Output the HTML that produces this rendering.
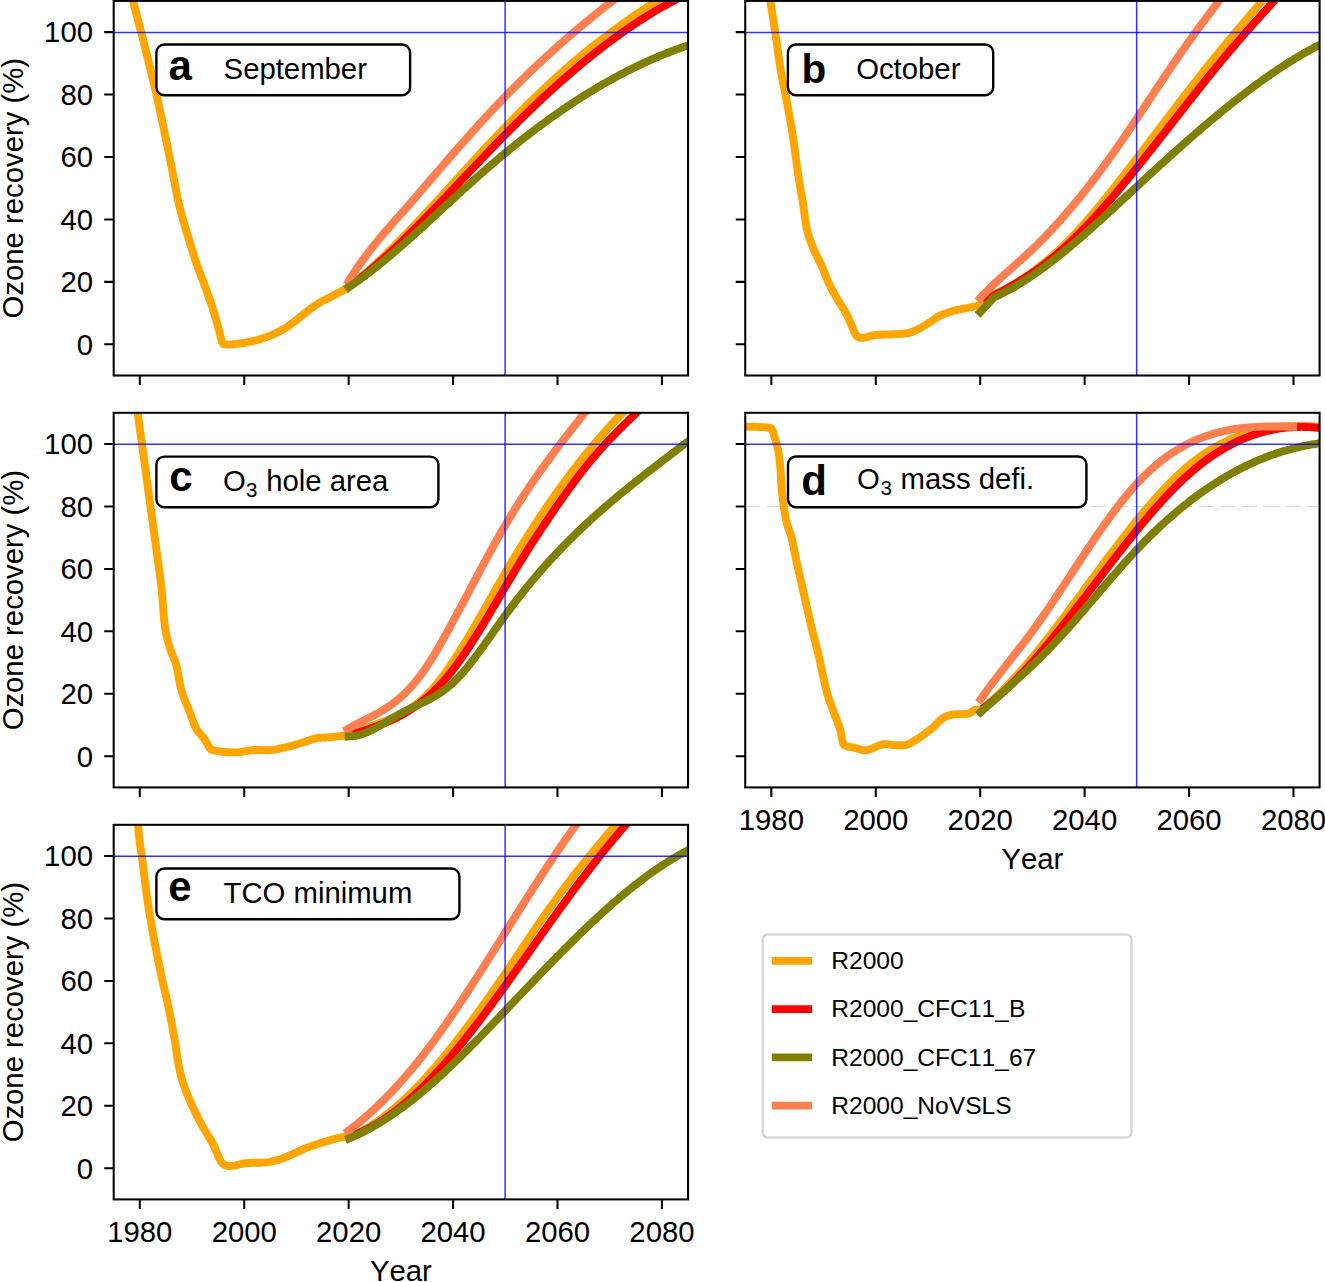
<!DOCTYPE html><html><head><meta charset="utf-8"><style>html,body{margin:0;padding:0;background:#fff;}svg{display:block;}text{font-family:"Liberation Sans",sans-serif;font-kerning:none;}</style></head><body>
<svg width="1325" height="1282" viewBox="0 0 1325 1282">
<rect width="1325" height="1282" fill="#fff"/>
<defs><clipPath id="clipa"><rect x="113.69" y="0.91" width="574.35" height="374.6"/></clipPath><clipPath id="clipb"><rect x="745.24" y="0.91" width="574.35" height="374.6"/></clipPath><clipPath id="clipc"><rect x="113.69" y="412.81" width="574.35" height="374.6"/></clipPath><clipPath id="clipd"><rect x="745.24" y="412.81" width="574.35" height="374.6"/></clipPath><clipPath id="clipe"><rect x="113.69" y="824.81" width="574.35" height="374.6"/></clipPath></defs>
<g clip-path="url(#clipa)"><path d="M348.66 287.2 L349.96 286.17 L351.27 285.14 L352.57 284.09 L353.88 283.03 L355.18 281.96 L356.49 280.89 L357.79 279.8 L359.1 278.7 L360.4 277.6 L361.71 276.48 L363.01 275.36 L364.32 274.22 L365.63 273.08 L366.93 271.93 L368.24 270.77 L369.54 269.61 L370.85 268.43 L372.15 267.25 L373.46 266.05 L374.76 264.85 L376.07 263.64 L377.37 262.43 L378.68 261.21 L379.98 259.98 L381.29 258.74 L382.6 257.49 L383.9 256.24 L385.21 254.98 L386.51 253.72 L387.82 252.44 L389.12 251.17 L390.43 249.88 L391.73 248.59 L393.04 247.29 L394.34 245.99 L395.65 244.68 L396.95 243.36 L398.26 242.04 L399.56 240.72 L400.87 239.39 L402.18 238.05 L403.48 236.71 L404.79 235.36 L406.09 234.01 L407.4 232.65 L408.7 231.29 L410.01 229.93 L411.31 228.56 L412.62 227.19 L413.92 225.81 L415.23 224.43 L416.53 223.04 L417.84 221.65 L419.14 220.26 L420.45 218.87 L421.76 217.47 L423.06 216.06 L424.37 214.66 L425.67 213.25 L426.98 211.84 L428.28 210.43 L429.59 209.01 L430.89 207.59 L432.2 206.17 L433.5 204.75 L434.81 203.33 L436.11 201.9 L437.42 200.47 L438.73 199.05 L440.03 197.62 L441.34 196.18 L442.64 194.75 L443.95 193.32 L445.25 191.88 L446.56 190.45 L447.86 189.01 L449.17 187.57 L450.47 186.13 L451.78 184.7 L453.08 183.26 L454.39 181.82 L455.69 180.38 L457 178.95 L458.31 177.51 L459.61 176.07 L460.92 174.64 L462.22 173.2 L463.53 171.77 L464.83 170.34 L466.14 168.9 L467.44 167.47 L468.75 166.05 L470.05 164.62 L471.36 163.19 L472.66 161.77 L473.97 160.35 L475.27 158.93 L476.58 157.51 L477.89 156.09 L479.19 154.68 L480.5 153.27 L481.8 151.86 L483.11 150.46 L484.41 149.06 L485.72 147.66 L487.02 146.26 L488.33 144.87 L489.63 143.48 L490.94 142.09 L492.24 140.71 L493.55 139.33 L494.86 137.95 L496.16 136.57 L497.47 135.2 L498.77 133.83 L500.08 132.47 L501.38 131.11 L502.69 129.75 L503.99 128.39 L505.3 127.04 L506.6 125.69 L507.91 124.35 L509.21 123.01 L510.52 121.67 L511.82 120.34 L513.13 119.01 L514.44 117.68 L515.74 116.36 L517.05 115.04 L518.35 113.72 L519.66 112.41 L520.96 111.11 L522.27 109.8 L523.57 108.5 L524.88 107.21 L526.18 105.92 L527.49 104.63 L528.79 103.35 L530.1 102.07 L531.4 100.79 L532.71 99.52 L534.02 98.26 L535.32 97 L536.63 95.74 L537.93 94.49 L539.24 93.24 L540.54 92 L541.85 90.76 L543.15 89.52 L544.46 88.29 L545.76 87.07 L547.07 85.85 L548.37 84.63 L549.68 83.42 L550.99 82.21 L552.29 81.01 L553.6 79.82 L554.9 78.63 L556.21 77.44 L557.51 76.26 L558.82 75.08 L560.12 73.91 L561.43 72.75 L562.73 71.58 L564.04 70.43 L565.34 69.28 L566.65 68.13 L567.95 66.99 L569.26 65.86 L570.57 64.73 L571.87 63.61 L573.18 62.49 L574.48 61.38 L575.79 60.27 L577.09 59.17 L578.4 58.08 L579.7 56.99 L581.01 55.9 L582.31 54.82 L583.62 53.75 L584.92 52.68 L586.23 51.62 L587.54 50.56 L588.84 49.51 L590.15 48.46 L591.45 47.42 L592.76 46.38 L594.06 45.35 L595.37 44.33 L596.67 43.3 L597.98 42.29 L599.28 41.27 L600.59 40.27 L601.89 39.27 L603.2 38.27 L604.5 37.27 L605.81 36.29 L607.12 35.3 L608.42 34.32 L609.73 33.35 L611.03 32.38 L612.34 31.41 L613.64 30.45 L614.95 29.5 L616.25 28.54 L617.56 27.59 L618.86 26.65 L620.17 25.71 L621.47 24.77 L622.78 23.84 L624.08 22.91 L625.39 21.99 L626.7 21.07 L628 20.16 L629.31 19.24 L630.61 18.33 L631.92 17.43 L633.22 16.53 L634.53 15.63 L635.83 14.74 L637.14 13.85 L638.44 12.96 L639.75 12.08 L641.05 11.2 L642.36 10.32 L643.67 9.45 L644.97 8.58 L646.28 7.72 L647.58 6.85 L648.89 5.99 L650.19 5.14 L651.5 4.28 L652.8 3.43 L654.11 2.59 L655.41 1.74 L656.72 0.9 L658.02 0.06 L659.33 -0.77 L660.63 -1.61 L661.94 -2.44 L663.25 -3.27 L664.55 -4.09 L665.86 -4.91 L667.16 -5.73 L668.47 -6.55 L669.77 -7.36 L671.08 -8.18 L672.38 -8.99 L673.69 -9.79 L674.99 -10.6 L676.3 -11.4 L677.6 -12.2 L678.91 -13 L680.21 -13.8 L681.52 -14.59 L682.83 -15.39 L684.13 -16.18 L685.44 -16.97 L686.74 -17.75 L688.05 -18.54" fill="none" stroke="#ffa500" stroke-width="7.9" stroke-linecap="square" stroke-linejoin="round"/><path d="M348.66 287.24 L349.96 286.27 L351.27 285.29 L352.57 284.31 L353.88 283.31 L355.18 282.31 L356.49 281.3 L357.79 280.28 L359.1 279.25 L360.4 278.21 L361.71 277.16 L363.01 276.11 L364.32 275.04 L365.63 273.97 L366.93 272.89 L368.24 271.8 L369.54 270.71 L370.85 269.6 L372.15 268.49 L373.46 267.37 L374.76 266.25 L376.07 265.12 L377.37 263.97 L378.68 262.83 L379.98 261.67 L381.29 260.51 L382.6 259.34 L383.9 258.17 L385.21 256.99 L386.51 255.8 L387.82 254.6 L389.12 253.4 L390.43 252.2 L391.73 250.98 L393.04 249.77 L394.34 248.54 L395.65 247.31 L396.95 246.07 L398.26 244.83 L399.56 243.59 L400.87 242.33 L402.18 241.08 L403.48 239.82 L404.79 238.55 L406.09 237.28 L407.4 236 L408.7 234.72 L410.01 233.43 L411.31 232.14 L412.62 230.85 L413.92 229.55 L415.23 228.25 L416.53 226.94 L417.84 225.63 L419.14 224.31 L420.45 223 L421.76 221.67 L423.06 220.35 L424.37 219.02 L425.67 217.69 L426.98 216.35 L428.28 215.02 L429.59 213.67 L430.89 212.33 L432.2 210.98 L433.5 209.64 L434.81 208.28 L436.11 206.93 L437.42 205.57 L438.73 204.22 L440.03 202.86 L441.34 201.49 L442.64 200.13 L443.95 198.76 L445.25 197.4 L446.56 196.03 L447.86 194.66 L449.17 193.28 L450.47 191.91 L451.78 190.54 L453.08 189.16 L454.39 187.79 L455.69 186.41 L457 185.03 L458.31 183.66 L459.61 182.28 L460.92 180.9 L462.22 179.52 L463.53 178.14 L464.83 176.76 L466.14 175.38 L467.44 174 L468.75 172.63 L470.05 171.25 L471.36 169.87 L472.66 168.49 L473.97 167.12 L475.27 165.74 L476.58 164.37 L477.89 163 L479.19 161.62 L480.5 160.25 L481.8 158.88 L483.11 157.52 L484.41 156.15 L485.72 154.79 L487.02 153.42 L488.33 152.06 L489.63 150.7 L490.94 149.35 L492.24 147.99 L493.55 146.64 L494.86 145.29 L496.16 143.94 L497.47 142.6 L498.77 141.26 L500.08 139.92 L501.38 138.58 L502.69 137.25 L503.99 135.92 L505.3 134.59 L506.6 133.27 L507.91 131.95 L509.21 130.64 L510.52 129.32 L511.82 128.02 L513.13 126.71 L514.44 125.41 L515.74 124.11 L517.05 122.82 L518.35 121.53 L519.66 120.24 L520.96 118.96 L522.27 117.68 L523.57 116.4 L524.88 115.13 L526.18 113.86 L527.49 112.59 L528.79 111.33 L530.1 110.08 L531.4 108.82 L532.71 107.57 L534.02 106.33 L535.32 105.09 L536.63 103.85 L537.93 102.62 L539.24 101.39 L540.54 100.16 L541.85 98.94 L543.15 97.72 L544.46 96.51 L545.76 95.3 L547.07 94.1 L548.37 92.9 L549.68 91.7 L550.99 90.51 L552.29 89.32 L553.6 88.14 L554.9 86.96 L556.21 85.78 L557.51 84.61 L558.82 83.44 L560.12 82.28 L561.43 81.13 L562.73 79.97 L564.04 78.82 L565.34 77.68 L566.65 76.54 L567.95 75.41 L569.26 74.27 L570.57 73.15 L571.87 72.03 L573.18 70.91 L574.48 69.8 L575.79 68.69 L577.09 67.59 L578.4 66.49 L579.7 65.4 L581.01 64.31 L582.31 63.23 L583.62 62.15 L584.92 61.07 L586.23 60.01 L587.54 58.94 L588.84 57.88 L590.15 56.83 L591.45 55.78 L592.76 54.73 L594.06 53.7 L595.37 52.66 L596.67 51.63 L597.98 50.61 L599.28 49.59 L600.59 48.58 L601.89 47.57 L603.2 46.56 L604.5 45.57 L605.81 44.57 L607.12 43.58 L608.42 42.6 L609.73 41.63 L611.03 40.65 L612.34 39.69 L613.64 38.73 L614.95 37.77 L616.25 36.82 L617.56 35.87 L618.86 34.94 L620.17 34 L621.47 33.07 L622.78 32.15 L624.08 31.23 L625.39 30.32 L626.7 29.42 L628 28.52 L629.31 27.62 L630.61 26.73 L631.92 25.85 L633.22 24.97 L634.53 24.1 L635.83 23.23 L637.14 22.37 L638.44 21.52 L639.75 20.67 L641.05 19.83 L642.36 18.99 L643.67 18.16 L644.97 17.33 L646.28 16.51 L647.58 15.7 L648.89 14.89 L650.19 14.09 L651.5 13.3 L652.8 12.51 L654.11 11.73 L655.41 10.95 L656.72 10.18 L658.02 9.41 L659.33 8.66 L660.63 7.9 L661.94 7.16 L663.25 6.42 L664.55 5.69 L665.86 4.96 L667.16 4.24 L668.47 3.53 L669.77 2.82 L671.08 2.12 L672.38 1.42 L673.69 0.73 L674.99 0.05 L676.3 -0.62 L677.6 -1.29 L678.91 -1.95 L680.21 -2.61 L681.52 -3.26 L682.83 -3.9 L684.13 -4.54 L685.44 -5.17 L686.74 -5.79 L688.05 -6.4" fill="none" stroke="#ff0000" stroke-width="7.9" stroke-linecap="square" stroke-linejoin="round"/><path d="M130.4 -8.45 L131.71 -3.66 L133.01 1.17 L134.32 6.04 L135.62 10.95 L136.93 15.89 L138.23 20.89 L139.54 25.92 L140.84 31 L142.15 36.11 L143.45 41.23 L144.76 46.36 L146.07 51.52 L147.37 56.72 L148.68 61.96 L149.98 67.26 L151.29 72.61 L152.59 78.05 L153.9 83.56 L155.2 89.17 L156.51 94.88 L157.81 100.7 L159.12 106.63 L160.42 112.67 L161.73 118.8 L163.04 125.02 L164.34 131.32 L165.65 137.67 L166.95 144.09 L168.26 150.55 L169.56 157.05 L170.87 163.58 L172.17 170.13 L173.48 176.69 L174.78 183.33 L176.09 190.3 L177.39 197.05 L178.7 203.01 L180 208.47 L181.31 213.58 L182.62 218.44 L183.92 223.07 L185.23 227.48 L186.53 231.74 L187.84 235.94 L189.14 240.15 L190.45 244.41 L191.75 248.7 L193.06 252.94 L194.36 257.11 L195.67 261.14 L196.97 265 L198.28 268.62 L199.59 272.06 L200.89 275.41 L202.2 278.77 L203.5 282.23 L204.81 285.8 L206.11 289.38 L207.42 292.98 L208.72 296.64 L210.03 300.39 L211.33 304.24 L212.64 308.24 L213.94 312.47 L215.25 316.94 L216.55 321.49 L217.86 325.98 L219.17 330.94 L220.47 336.54 L221.78 341.33 L223.08 343.88 L224.39 344.24 L225.69 344.47 L227 344.59 L228.3 344.61 L229.61 344.57 L230.91 344.5 L232.22 344.39 L233.52 344.26 L234.83 344.11 L236.13 343.94 L237.44 343.76 L238.75 343.58 L240.05 343.39 L241.36 343.21 L242.66 343.03 L243.97 342.83 L245.27 342.62 L246.58 342.39 L247.88 342.15 L249.19 341.9 L250.49 341.63 L251.8 341.35 L253.1 341.06 L254.41 340.75 L255.72 340.44 L257.02 340.11 L258.33 339.75 L259.63 339.37 L260.94 338.96 L262.24 338.53 L263.55 338.08 L264.85 337.6 L266.16 337.12 L267.46 336.61 L268.77 336.1 L270.07 335.57 L271.38 335.04 L272.68 334.5 L273.99 333.94 L275.3 333.35 L276.6 332.75 L277.91 332.12 L279.21 331.47 L280.52 330.79 L281.82 330.09 L283.13 329.36 L284.43 328.6 L285.74 327.8 L287.04 326.94 L288.35 326.05 L289.65 325.12 L290.96 324.17 L292.26 323.2 L293.57 322.22 L294.88 321.24 L296.18 320.26 L297.49 319.25 L298.79 318.2 L300.1 317.14 L301.4 316.06 L302.71 314.97 L304.01 313.9 L305.32 312.84 L306.62 311.81 L307.93 310.82 L309.23 309.85 L310.54 308.88 L311.85 307.92 L313.15 306.97 L314.46 306.05 L315.76 305.14 L317.07 304.27 L318.37 303.43 L319.68 302.62 L320.98 301.87 L322.29 301.15 L323.59 300.46 L324.9 299.8 L326.2 299.15 L327.51 298.51 L328.81 297.87 L330.12 297.22 L331.43 296.55 L332.73 295.87 L334.04 295.17 L335.34 294.48 L336.65 293.78 L337.95 293.07 L339.26 292.36 L340.56 291.65 L341.87 290.94 L343.17 290.22 L344.48 289.5 L345.78 288.78 L347.09 288.05 L348.39 287.32 L348.66 287.17" fill="none" stroke="#ffa500" stroke-width="7.9" stroke-linecap="square" stroke-linejoin="round"/><path d="M348.66 281.19 L349.96 279.06 L351.27 276.96 L352.57 274.91 L353.88 272.88 L355.18 270.89 L356.49 268.93 L357.79 267.01 L359.1 265.11 L360.4 263.25 L361.71 261.41 L363.01 259.6 L364.32 257.82 L365.63 256.06 L366.93 254.32 L368.24 252.61 L369.54 250.91 L370.85 249.24 L372.15 247.59 L373.46 245.96 L374.76 244.34 L376.07 242.74 L377.37 241.15 L378.68 239.57 L379.98 238.01 L381.29 236.47 L382.6 234.93 L383.9 233.4 L385.21 231.88 L386.51 230.37 L387.82 228.87 L389.12 227.37 L390.43 225.88 L391.73 224.39 L393.04 222.91 L394.34 221.43 L395.65 219.95 L396.95 218.47 L398.26 216.99 L399.56 215.51 L400.87 214.03 L402.18 212.55 L403.48 211.06 L404.79 209.57 L406.09 208.08 L407.4 206.58 L408.7 205.09 L410.01 203.59 L411.31 202.08 L412.62 200.58 L413.92 199.08 L415.23 197.57 L416.53 196.06 L417.84 194.55 L419.14 193.04 L420.45 191.52 L421.76 190.01 L423.06 188.5 L424.37 186.98 L425.67 185.46 L426.98 183.95 L428.28 182.43 L429.59 180.91 L430.89 179.39 L432.2 177.88 L433.5 176.36 L434.81 174.84 L436.11 173.32 L437.42 171.81 L438.73 170.29 L440.03 168.77 L441.34 167.26 L442.64 165.74 L443.95 164.23 L445.25 162.72 L446.56 161.21 L447.86 159.7 L449.17 158.19 L450.47 156.69 L451.78 155.19 L453.08 153.68 L454.39 152.19 L455.69 150.69 L457 149.19 L458.31 147.7 L459.61 146.21 L460.92 144.72 L462.22 143.24 L463.53 141.76 L464.83 140.28 L466.14 138.81 L467.44 137.34 L468.75 135.87 L470.05 134.4 L471.36 132.94 L472.66 131.49 L473.97 130.04 L475.27 128.59 L476.58 127.14 L477.89 125.71 L479.19 124.27 L480.5 122.84 L481.8 121.41 L483.11 119.99 L484.41 118.58 L485.72 117.17 L487.02 115.76 L488.33 114.36 L489.63 112.96 L490.94 111.57 L492.24 110.18 L493.55 108.8 L494.86 107.42 L496.16 106.05 L497.47 104.68 L498.77 103.31 L500.08 101.96 L501.38 100.6 L502.69 99.25 L503.99 97.9 L505.3 96.56 L506.6 95.23 L507.91 93.89 L509.21 92.57 L510.52 91.24 L511.82 89.92 L513.13 88.61 L514.44 87.3 L515.74 86 L517.05 84.7 L518.35 83.4 L519.66 82.11 L520.96 80.82 L522.27 79.54 L523.57 78.26 L524.88 76.99 L526.18 75.72 L527.49 74.45 L528.79 73.19 L530.1 71.93 L531.4 70.68 L532.71 69.43 L534.02 68.19 L535.32 66.95 L536.63 65.72 L537.93 64.49 L539.24 63.26 L540.54 62.04 L541.85 60.82 L543.15 59.61 L544.46 58.4 L545.76 57.19 L547.07 55.99 L548.37 54.8 L549.68 53.61 L550.99 52.42 L552.29 51.23 L553.6 50.05 L554.9 48.88 L556.21 47.71 L557.51 46.54 L558.82 45.38 L560.12 44.22 L561.43 43.06 L562.73 41.91 L564.04 40.77 L565.34 39.63 L566.65 38.49 L567.95 37.35 L569.26 36.22 L570.57 35.1 L571.87 33.97 L573.18 32.86 L574.48 31.74 L575.79 30.63 L577.09 29.53 L578.4 28.42 L579.7 27.32 L581.01 26.23 L582.31 25.14 L583.62 24.05 L584.92 22.97 L586.23 21.89 L587.54 20.82 L588.84 19.75 L590.15 18.68 L591.45 17.62 L592.76 16.56 L594.06 15.5 L595.37 14.45 L596.67 13.4 L597.98 12.36 L599.28 11.32 L600.59 10.28 L601.89 9.25 L603.2 8.22 L604.5 7.19 L605.81 6.17 L607.12 5.16 L608.42 4.14 L609.73 3.13 L611.03 2.12 L612.34 1.12 L613.64 0.12 L614.95 -0.87 L616.25 -1.87 L617.56 -2.85 L618.86 -3.84 L620.17 -4.82 L621.47 -5.8 L622.78 -6.77 L624.08 -7.74 L625.39 -8.71 L626.7 -9.67 L628 -10.63 L629.31 -11.59 L630.61 -12.54 L631.92 -13.49 L633.22 -14.43 L634.53 -15.37 L635.83 -16.31" fill="none" stroke="#ff7f50" stroke-width="7.9" stroke-linecap="square" stroke-linejoin="round"/><path d="M348.66 287.21 L349.96 286.34 L351.27 285.46 L352.57 284.58 L353.88 283.68 L355.18 282.77 L356.49 281.86 L357.79 280.93 L359.1 280 L360.4 279.06 L361.71 278.11 L363.01 277.15 L364.32 276.19 L365.63 275.22 L366.93 274.23 L368.24 273.25 L369.54 272.25 L370.85 271.25 L372.15 270.24 L373.46 269.22 L374.76 268.2 L376.07 267.16 L377.37 266.13 L378.68 265.08 L379.98 264.03 L381.29 262.98 L382.6 261.91 L383.9 260.84 L385.21 259.77 L386.51 258.69 L387.82 257.6 L389.12 256.51 L390.43 255.41 L391.73 254.31 L393.04 253.2 L394.34 252.09 L395.65 250.97 L396.95 249.85 L398.26 248.72 L399.56 247.59 L400.87 246.46 L402.18 245.32 L403.48 244.17 L404.79 243.03 L406.09 241.87 L407.4 240.72 L408.7 239.56 L410.01 238.4 L411.31 237.23 L412.62 236.06 L413.92 234.89 L415.23 233.72 L416.53 232.54 L417.84 231.36 L419.14 230.18 L420.45 229 L421.76 227.81 L423.06 226.62 L424.37 225.43 L425.67 224.24 L426.98 223.04 L428.28 221.85 L429.59 220.65 L430.89 219.45 L432.2 218.25 L433.5 217.05 L434.81 215.85 L436.11 214.65 L437.42 213.44 L438.73 212.24 L440.03 211.03 L441.34 209.83 L442.64 208.63 L443.95 207.42 L445.25 206.22 L446.56 205.01 L447.86 203.81 L449.17 202.61 L450.47 201.4 L451.78 200.2 L453.08 199 L454.39 197.8 L455.69 196.6 L457 195.41 L458.31 194.21 L459.61 193.01 L460.92 191.82 L462.22 190.63 L463.53 189.44 L464.83 188.26 L466.14 187.07 L467.44 185.89 L468.75 184.71 L470.05 183.53 L471.36 182.36 L472.66 181.19 L473.97 180.02 L475.27 178.85 L476.58 177.69 L477.89 176.53 L479.19 175.38 L480.5 174.23 L481.8 173.08 L483.11 171.93 L484.41 170.79 L485.72 169.66 L487.02 168.53 L488.33 167.4 L489.63 166.27 L490.94 165.15 L492.24 164.03 L493.55 162.92 L494.86 161.81 L496.16 160.71 L497.47 159.6 L498.77 158.51 L500.08 157.41 L501.38 156.32 L502.69 155.24 L503.99 154.15 L505.3 153.08 L506.6 152 L507.91 150.93 L509.21 149.87 L510.52 148.8 L511.82 147.75 L513.13 146.69 L514.44 145.64 L515.74 144.59 L517.05 143.55 L518.35 142.51 L519.66 141.48 L520.96 140.45 L522.27 139.42 L523.57 138.4 L524.88 137.38 L526.18 136.37 L527.49 135.36 L528.79 134.35 L530.1 133.35 L531.4 132.36 L532.71 131.36 L534.02 130.37 L535.32 129.39 L536.63 128.41 L537.93 127.43 L539.24 126.46 L540.54 125.49 L541.85 124.53 L543.15 123.57 L544.46 122.61 L545.76 121.66 L547.07 120.71 L548.37 119.77 L549.68 118.83 L550.99 117.9 L552.29 116.97 L553.6 116.04 L554.9 115.12 L556.21 114.2 L557.51 113.29 L558.82 112.38 L560.12 111.48 L561.43 110.58 L562.73 109.68 L564.04 108.79 L565.34 107.91 L566.65 107.02 L567.95 106.15 L569.26 105.27 L570.57 104.4 L571.87 103.54 L573.18 102.68 L574.48 101.82 L575.79 100.97 L577.09 100.13 L578.4 99.28 L579.7 98.45 L581.01 97.61 L582.31 96.78 L583.62 95.96 L584.92 95.14 L586.23 94.33 L587.54 93.51 L588.84 92.71 L590.15 91.91 L591.45 91.11 L592.76 90.32 L594.06 89.53 L595.37 88.75 L596.67 87.97 L597.98 87.19 L599.28 86.42 L600.59 85.66 L601.89 84.9 L603.2 84.14 L604.5 83.39 L605.81 82.65 L607.12 81.91 L608.42 81.17 L609.73 80.44 L611.03 79.71 L612.34 78.99 L613.64 78.27 L614.95 77.56 L616.25 76.85 L617.56 76.14 L618.86 75.45 L620.17 74.75 L621.47 74.06 L622.78 73.38 L624.08 72.7 L625.39 72.02 L626.7 71.35 L628 70.69 L629.31 70.03 L630.61 69.37 L631.92 68.72 L633.22 68.08 L634.53 67.44 L635.83 66.8 L637.14 66.17 L638.44 65.54 L639.75 64.92 L641.05 64.31 L642.36 63.69 L643.67 63.09 L644.97 62.49 L646.28 61.89 L647.58 61.3 L648.89 60.71 L650.19 60.13 L651.5 59.55 L652.8 58.98 L654.11 58.42 L655.41 57.85 L656.72 57.3 L658.02 56.75 L659.33 56.2 L660.63 55.66 L661.94 55.12 L663.25 54.59 L664.55 54.07 L665.86 53.55 L667.16 53.03 L668.47 52.52 L669.77 52.01 L671.08 51.51 L672.38 51.02 L673.69 50.53 L674.99 50.05 L676.3 49.57 L677.6 49.09 L678.91 48.62 L680.21 48.16 L681.52 47.7 L682.83 47.25 L684.13 46.8 L685.44 46.36 L686.74 45.92 L688.05 45.49" fill="none" stroke="#808000" stroke-width="7.9" stroke-linecap="square" stroke-linejoin="round"/><line x1="113.69" y1="32.43" x2="688.05" y2="32.43" stroke="#0000ff" stroke-opacity="0.8" stroke-width="1.5"/><line x1="505.1" y1="0.91" x2="505.1" y2="375.52" stroke="#0000ff" stroke-opacity="0.8" stroke-width="1.5"/></g>
<rect x="113.69" y="0.91" width="574.35" height="374.6" fill="none" stroke="#000" stroke-width="2.05"/>
<path d="M139.8 375.52V385.02M244.23 375.52V385.02M348.66 375.52V385.02M453.08 375.52V385.02M557.51 375.52V385.02M661.94 375.52V385.02M113.69 344.3H104.19M113.69 281.87H104.19M113.69 219.43H104.19M113.69 157H104.19M113.69 94.56H104.19M113.69 32.13H104.19" stroke="#000" stroke-width="2.05" fill="none"/>
<text x="92.99" y="354.6" text-anchor="end" font-size="29.3">0</text><text x="92.99" y="292.17" text-anchor="end" font-size="29.3">20</text><text x="92.99" y="229.73" text-anchor="end" font-size="29.3">40</text><text x="92.99" y="167.3" text-anchor="end" font-size="29.3">60</text><text x="92.99" y="104.86" text-anchor="end" font-size="29.3">80</text><text x="92.99" y="42.43" text-anchor="end" font-size="29.3">100</text>
<text transform="translate(23.4 188.22) rotate(-90)" text-anchor="middle" font-size="29.3">Ozone recovery (%)</text>
<g clip-path="url(#clipb)"><path d="M980.21 305.28 L993.78 294.65 L995.09 294.04 L996.39 293.42 L997.7 292.8 L999 292.16 L1000.31 291.51 L1001.61 290.85 L1002.92 290.18 L1004.22 289.51 L1005.53 288.81 L1006.84 288.11 L1008.14 287.4 L1009.45 286.68 L1010.75 285.94 L1012.06 285.19 L1013.36 284.44 L1014.67 283.67 L1015.97 282.88 L1017.28 282.09 L1018.58 281.29 L1019.89 280.47 L1021.19 279.64 L1022.5 278.8 L1023.8 277.94 L1025.11 277.08 L1026.42 276.2 L1027.72 275.31 L1029.03 274.4 L1030.33 273.49 L1031.64 272.56 L1032.94 271.62 L1034.25 270.66 L1035.55 269.69 L1036.86 268.71 L1038.16 267.71 L1039.47 266.71 L1040.77 265.68 L1042.08 264.65 L1043.38 263.6 L1044.69 262.53 L1046 261.46 L1047.3 260.36 L1048.61 259.26 L1049.91 258.14 L1051.22 257 L1052.52 255.86 L1053.83 254.69 L1055.13 253.51 L1056.44 252.32 L1057.74 251.11 L1059.05 249.89 L1060.35 248.65 L1061.66 247.4 L1062.97 246.14 L1064.27 244.86 L1065.58 243.56 L1066.88 242.25 L1068.19 240.93 L1069.49 239.6 L1070.8 238.25 L1072.1 236.89 L1073.41 235.51 L1074.71 234.13 L1076.02 232.73 L1077.32 231.32 L1078.63 229.9 L1079.93 228.47 L1081.24 227.02 L1082.55 225.57 L1083.85 224.1 L1085.16 222.63 L1086.46 221.14 L1087.77 219.64 L1089.07 218.14 L1090.38 216.62 L1091.68 215.1 L1092.99 213.56 L1094.29 212.02 L1095.6 210.47 L1096.9 208.91 L1098.21 207.34 L1099.51 205.76 L1100.82 204.18 L1102.13 202.58 L1103.43 200.99 L1104.74 199.38 L1106.04 197.77 L1107.35 196.15 L1108.65 194.52 L1109.96 192.89 L1111.26 191.25 L1112.57 189.6 L1113.87 187.95 L1115.18 186.3 L1116.48 184.64 L1117.79 182.97 L1119.1 181.3 L1120.4 179.63 L1121.71 177.95 L1123.01 176.27 L1124.32 174.58 L1125.62 172.89 L1126.93 171.2 L1128.23 169.51 L1129.54 167.81 L1130.84 166.11 L1132.15 164.41 L1133.45 162.7 L1134.76 160.99 L1136.06 159.28 L1137.37 157.58 L1138.68 155.86 L1139.98 154.15 L1141.29 152.44 L1142.59 150.72 L1143.9 149.01 L1145.2 147.29 L1146.51 145.58 L1147.81 143.86 L1149.12 142.14 L1150.42 140.42 L1151.73 138.71 L1153.03 136.99 L1154.34 135.27 L1155.65 133.55 L1156.95 131.84 L1158.26 130.12 L1159.56 128.4 L1160.87 126.68 L1162.17 124.97 L1163.48 123.25 L1164.78 121.54 L1166.09 119.82 L1167.39 118.11 L1168.7 116.4 L1170 114.69 L1171.31 112.98 L1172.61 111.27 L1173.92 109.57 L1175.23 107.86 L1176.53 106.16 L1177.84 104.46 L1179.14 102.76 L1180.45 101.06 L1181.75 99.37 L1183.06 97.67 L1184.36 95.98 L1185.67 94.29 L1186.97 92.61 L1188.28 90.92 L1189.58 89.24 L1190.89 87.57 L1192.19 85.89 L1193.5 84.22 L1194.81 82.55 L1196.11 80.88 L1197.42 79.22 L1198.72 77.56 L1200.03 75.91 L1201.33 74.25 L1202.64 72.61 L1203.94 70.96 L1205.25 69.32 L1206.55 67.68 L1207.86 66.05 L1209.16 64.42 L1210.47 62.8 L1211.78 61.18 L1213.08 59.56 L1214.39 57.95 L1215.69 56.35 L1217 54.75 L1218.3 53.15 L1219.61 51.56 L1220.91 49.97 L1222.22 48.38 L1223.52 46.8 L1224.83 45.22 L1226.13 43.64 L1227.44 42.07 L1228.74 40.5 L1230.05 38.94 L1231.36 37.37 L1232.66 35.81 L1233.97 34.25 L1235.27 32.7 L1236.58 31.14 L1237.88 29.59 L1239.19 28.04 L1240.49 26.5 L1241.8 24.95 L1243.1 23.4 L1244.41 21.86 L1245.71 20.32 L1247.02 18.78 L1248.32 17.24 L1249.63 15.7 L1250.94 14.16 L1252.24 12.62 L1253.55 11.08 L1254.85 9.54 L1256.16 8.01 L1257.46 6.47 L1258.77 4.93 L1260.07 3.39 L1261.38 1.85 L1262.68 0.31 L1263.99 -1.23 L1265.29 -2.77 L1266.6 -4.31 L1267.91 -5.86 L1269.21 -7.4 L1270.52 -8.95 L1271.82 -10.5 L1272 -10.71" fill="none" stroke="#ffa500" stroke-width="7.9" stroke-linecap="square" stroke-linejoin="round"/><path d="M980.21 305.28 L993.78 295.59 L995.09 294.91 L996.39 294.24 L997.7 293.56 L999 292.87 L1000.31 292.18 L1001.61 291.48 L1002.92 290.77 L1004.22 290.06 L1005.53 289.34 L1006.84 288.62 L1008.14 287.88 L1009.45 287.15 L1010.75 286.4 L1012.06 285.65 L1013.36 284.89 L1014.67 284.12 L1015.97 283.34 L1017.28 282.56 L1018.58 281.77 L1019.89 280.97 L1021.19 280.16 L1022.5 279.35 L1023.8 278.52 L1025.11 277.69 L1026.42 276.84 L1027.72 275.99 L1029.03 275.13 L1030.33 274.26 L1031.64 273.38 L1032.94 272.49 L1034.25 271.59 L1035.55 270.68 L1036.86 269.75 L1038.16 268.82 L1039.47 267.88 L1040.77 266.93 L1042.08 265.96 L1043.38 264.99 L1044.69 264 L1046 263.01 L1047.3 262 L1048.61 260.98 L1049.91 259.94 L1051.22 258.9 L1052.52 257.84 L1053.83 256.77 L1055.13 255.69 L1056.44 254.6 L1057.74 253.49 L1059.05 252.37 L1060.35 251.24 L1061.66 250.09 L1062.97 248.93 L1064.27 247.76 L1065.58 246.58 L1066.88 245.38 L1068.19 244.17 L1069.49 242.95 L1070.8 241.72 L1072.1 240.48 L1073.41 239.23 L1074.71 237.96 L1076.02 236.68 L1077.32 235.4 L1078.63 234.1 L1079.93 232.79 L1081.24 231.47 L1082.55 230.14 L1083.85 228.8 L1085.16 227.45 L1086.46 226.09 L1087.77 224.72 L1089.07 223.34 L1090.38 221.95 L1091.68 220.55 L1092.99 219.15 L1094.29 217.73 L1095.6 216.3 L1096.9 214.87 L1098.21 213.43 L1099.51 211.98 L1100.82 210.52 L1102.13 209.06 L1103.43 207.58 L1104.74 206.1 L1106.04 204.61 L1107.35 203.11 L1108.65 201.61 L1109.96 200.1 L1111.26 198.58 L1112.57 197.06 L1113.87 195.53 L1115.18 193.99 L1116.48 192.44 L1117.79 190.9 L1119.1 189.34 L1120.4 187.78 L1121.71 186.21 L1123.01 184.64 L1124.32 183.06 L1125.62 181.48 L1126.93 179.89 L1128.23 178.29 L1129.54 176.7 L1130.84 175.09 L1132.15 173.49 L1133.45 171.88 L1134.76 170.26 L1136.06 168.64 L1137.37 167.02 L1138.68 165.39 L1139.98 163.76 L1141.29 162.13 L1142.59 160.49 L1143.9 158.85 L1145.2 157.21 L1146.51 155.56 L1147.81 153.92 L1149.12 152.27 L1150.42 150.61 L1151.73 148.96 L1153.03 147.3 L1154.34 145.64 L1155.65 143.98 L1156.95 142.32 L1158.26 140.65 L1159.56 138.99 L1160.87 137.32 L1162.17 135.65 L1163.48 133.98 L1164.78 132.31 L1166.09 130.64 L1167.39 128.97 L1168.7 127.3 L1170 125.62 L1171.31 123.95 L1172.61 122.28 L1173.92 120.61 L1175.23 118.93 L1176.53 117.26 L1177.84 115.59 L1179.14 113.92 L1180.45 112.25 L1181.75 110.58 L1183.06 108.91 L1184.36 107.24 L1185.67 105.58 L1186.97 103.91 L1188.28 102.25 L1189.58 100.59 L1190.89 98.93 L1192.19 97.27 L1193.5 95.62 L1194.81 93.96 L1196.11 92.31 L1197.42 90.66 L1198.72 89.02 L1200.03 87.38 L1201.33 85.74 L1202.64 84.1 L1203.94 82.47 L1205.25 80.84 L1206.55 79.21 L1207.86 77.59 L1209.16 75.97 L1210.47 74.35 L1211.78 72.74 L1213.08 71.13 L1214.39 69.53 L1215.69 67.93 L1217 66.34 L1218.3 64.75 L1219.61 63.17 L1220.91 61.59 L1222.22 60.01 L1223.52 58.44 L1224.83 56.88 L1226.13 55.32 L1227.44 53.77 L1228.74 52.22 L1230.05 50.68 L1231.36 49.14 L1232.66 47.61 L1233.97 46.08 L1235.27 44.55 L1236.58 43.03 L1237.88 41.52 L1239.19 40.01 L1240.49 38.5 L1241.8 37 L1243.1 35.5 L1244.41 34.01 L1245.71 32.52 L1247.02 31.03 L1248.32 29.55 L1249.63 28.07 L1250.94 26.59 L1252.24 25.12 L1253.55 23.65 L1254.85 22.19 L1256.16 20.73 L1257.46 19.27 L1258.77 17.81 L1260.07 16.36 L1261.38 14.91 L1262.68 13.46 L1263.99 12.02 L1265.29 10.58 L1266.6 9.14 L1267.91 7.71 L1269.21 6.27 L1270.52 4.84 L1271.82 3.41 L1273.13 1.99 L1274.43 0.56 L1275.74 -0.86 L1277.04 -2.28 L1278.35 -3.7 L1279.65 -5.11 L1280.96 -6.53 L1282.26 -7.94 L1283.57 -9.35 L1284.87 -10.76 L1285 -10.89" fill="none" stroke="#ff0000" stroke-width="7.9" stroke-linecap="square" stroke-linejoin="round"/><path d="M768.74 -8.45 L770.04 -0.61 L771.35 7.42 L772.66 15.62 L773.96 23.99 L775.27 32.51 L776.57 41.54 L777.88 50.95 L779.18 60.17 L780.49 68.65 L781.79 76.09 L783.1 82.88 L784.4 89.34 L785.71 95.78 L787.01 102.52 L788.32 109.64 L789.62 116.89 L790.93 124.39 L792.24 132.28 L793.54 140.83 L794.85 150.13 L796.15 159.78 L797.46 169.37 L798.76 178.47 L800.07 186.67 L801.37 193.92 L802.68 201.3 L803.98 210.25 L805.29 220.09 L806.59 228.02 L807.9 233.21 L809.21 237.48 L810.51 241.14 L811.82 244.48 L813.12 247.77 L814.43 250.84 L815.73 253.69 L817.04 256.39 L818.34 259.02 L819.65 261.67 L820.95 264.41 L822.26 267.33 L823.56 270.44 L824.87 273.65 L826.17 276.89 L827.48 280.07 L828.79 283.11 L830.09 285.92 L831.4 288.52 L832.7 290.99 L834.01 293.35 L835.31 295.63 L836.62 297.87 L837.92 300.1 L839.23 302.31 L840.53 304.39 L841.84 306.4 L843.14 308.42 L844.45 310.51 L845.75 312.75 L847.06 315.21 L848.37 318.03 L849.67 321.09 L850.98 324.17 L852.28 327.08 L853.59 330.23 L854.89 333.27 L856.2 335.42 L857.5 336.46 L858.81 337.28 L860.11 337.79 L861.42 337.89 L862.72 337.81 L864.03 337.62 L865.34 337.37 L866.64 337.06 L867.95 336.71 L869.25 336.35 L870.56 335.99 L871.86 335.65 L873.17 335.36 L874.47 335.12 L875.78 334.96 L877.08 334.88 L878.39 334.81 L879.69 334.75 L881 334.7 L882.3 334.66 L883.61 334.62 L884.92 334.58 L886.22 334.54 L887.53 334.51 L888.83 334.47 L890.14 334.42 L891.44 334.37 L892.75 334.31 L894.05 334.25 L895.36 334.18 L896.66 334.12 L897.97 334.05 L899.27 333.98 L900.58 333.89 L901.88 333.8 L903.19 333.69 L904.5 333.58 L905.8 333.44 L907.11 333.27 L908.41 333.01 L909.72 332.65 L911.02 332.22 L912.33 331.72 L913.63 331.18 L914.94 330.6 L916.24 330.01 L917.55 329.41 L918.85 328.81 L920.16 328.16 L921.47 327.45 L922.77 326.69 L924.08 325.89 L925.38 325.07 L926.69 324.24 L927.99 323.41 L929.3 322.6 L930.6 321.74 L931.91 320.84 L933.21 319.91 L934.52 318.99 L935.82 318.1 L937.13 317.25 L938.43 316.48 L939.74 315.82 L941.05 315.21 L942.35 314.64 L943.66 314.09 L944.96 313.57 L946.27 313.08 L947.57 312.61 L948.88 312.17 L950.18 311.75 L951.49 311.36 L952.79 311 L954.1 310.65 L955.4 310.34 L956.71 310.04 L958.02 309.76 L959.32 309.5 L960.63 309.24 L961.93 308.99 L963.24 308.75 L964.54 308.5 L965.85 308.26 L967.15 308 L968.46 307.73 L969.76 307.46 L971.07 307.19 L972.37 306.92 L973.68 306.64 L974.98 306.37 L976.29 306.1 L977.6 305.83 L978.9 305.55 L980.21 305.28" fill="none" stroke="#ffa500" stroke-width="7.9" stroke-linecap="square" stroke-linejoin="round"/><path d="M980.21 298.07 L981.51 296.67 L982.82 295.28 L984.12 293.92 L985.43 292.58 L986.73 291.25 L988.04 289.94 L989.34 288.64 L990.65 287.36 L991.95 286.09 L993.26 284.84 L994.56 283.6 L995.87 282.37 L997.18 281.15 L998.48 279.94 L999.79 278.74 L1001.09 277.54 L1002.4 276.36 L1003.7 275.18 L1005.01 274.01 L1006.31 272.84 L1007.62 271.68 L1008.92 270.52 L1010.23 269.36 L1011.53 268.2 L1012.84 267.05 L1014.15 265.89 L1015.45 264.74 L1016.76 263.58 L1018.06 262.42 L1019.37 261.26 L1020.67 260.09 L1021.98 258.92 L1023.28 257.75 L1024.59 256.56 L1025.89 255.37 L1027.2 254.17 L1028.5 252.97 L1029.81 251.75 L1031.11 250.52 L1032.42 249.28 L1033.73 248.03 L1035.03 246.77 L1036.34 245.5 L1037.64 244.22 L1038.95 242.93 L1040.25 241.63 L1041.56 240.31 L1042.86 238.99 L1044.17 237.66 L1045.47 236.31 L1046.78 234.96 L1048.08 233.59 L1049.39 232.21 L1050.69 230.83 L1052 229.43 L1053.31 228.02 L1054.61 226.61 L1055.92 225.18 L1057.22 223.74 L1058.53 222.29 L1059.83 220.83 L1061.14 219.37 L1062.44 217.89 L1063.75 216.4 L1065.05 214.9 L1066.36 213.39 L1067.66 211.88 L1068.97 210.35 L1070.28 208.81 L1071.58 207.26 L1072.89 205.7 L1074.19 204.14 L1075.5 202.56 L1076.8 200.97 L1078.11 199.38 L1079.41 197.77 L1080.72 196.16 L1082.02 194.53 L1083.33 192.9 L1084.63 191.25 L1085.94 189.6 L1087.24 187.94 L1088.55 186.27 L1089.86 184.59 L1091.16 182.89 L1092.47 181.19 L1093.77 179.49 L1095.08 177.77 L1096.38 176.04 L1097.69 174.3 L1098.99 172.56 L1100.3 170.8 L1101.6 169.04 L1102.91 167.27 L1104.21 165.49 L1105.52 163.7 L1106.82 161.9 L1108.13 160.09 L1109.44 158.27 L1110.74 156.45 L1112.05 154.61 L1113.35 152.77 L1114.66 150.92 L1115.96 149.06 L1117.27 147.19 L1118.57 145.31 L1119.88 143.43 L1121.18 141.54 L1122.49 139.64 L1123.79 137.74 L1125.1 135.83 L1126.41 133.91 L1127.71 131.99 L1129.02 130.06 L1130.32 128.13 L1131.63 126.2 L1132.93 124.26 L1134.24 122.31 L1135.54 120.37 L1136.85 118.41 L1138.15 116.46 L1139.46 114.5 L1140.76 112.54 L1142.07 110.58 L1143.37 108.62 L1144.68 106.66 L1145.99 104.69 L1147.29 102.73 L1148.6 100.76 L1149.9 98.79 L1151.21 96.83 L1152.51 94.86 L1153.82 92.9 L1155.12 90.93 L1156.43 88.97 L1157.73 87.01 L1159.04 85.05 L1160.34 83.09 L1161.65 81.14 L1162.95 79.19 L1164.26 77.24 L1165.57 75.3 L1166.87 73.36 L1168.18 71.43 L1169.48 69.5 L1170.79 67.57 L1172.09 65.65 L1173.4 63.74 L1174.7 61.83 L1176.01 59.93 L1177.31 58.03 L1178.62 56.15 L1179.92 54.26 L1181.23 52.39 L1182.54 50.53 L1183.84 48.67 L1185.15 46.82 L1186.45 44.98 L1187.76 43.14 L1189.06 41.31 L1190.37 39.49 L1191.67 37.68 L1192.98 35.87 L1194.28 34.07 L1195.59 32.28 L1196.89 30.49 L1198.2 28.71 L1199.5 26.93 L1200.81 25.16 L1202.12 23.39 L1203.42 21.63 L1204.73 19.87 L1206.03 18.11 L1207.34 16.36 L1208.64 14.61 L1209.95 12.87 L1211.25 11.13 L1212.56 9.39 L1213.86 7.66 L1215.17 5.93 L1216.47 4.2 L1217.78 2.47 L1219.09 0.74 L1220.39 -0.98 L1221.7 -2.71 L1223 -4.43 L1224.31 -6.15 L1225.61 -7.87 L1226.92 -9.59 L1228 -11.02" fill="none" stroke="#ff7f50" stroke-width="7.9" stroke-linecap="square" stroke-linejoin="round"/><path d="M980.21 312.15 L993.78 297.47 L995.09 296.89 L996.39 296.29 L997.7 295.68 L999 295.06 L1000.31 294.43 L1001.61 293.78 L1002.92 293.13 L1004.22 292.46 L1005.53 291.78 L1006.84 291.09 L1008.14 290.39 L1009.45 289.68 L1010.75 288.96 L1012.06 288.23 L1013.36 287.48 L1014.67 286.73 L1015.97 285.97 L1017.28 285.19 L1018.58 284.41 L1019.89 283.61 L1021.19 282.81 L1022.5 281.99 L1023.8 281.17 L1025.11 280.34 L1026.42 279.49 L1027.72 278.64 L1029.03 277.78 L1030.33 276.91 L1031.64 276.03 L1032.94 275.15 L1034.25 274.25 L1035.55 273.34 L1036.86 272.43 L1038.16 271.51 L1039.47 270.58 L1040.77 269.64 L1042.08 268.7 L1043.38 267.74 L1044.69 266.78 L1046 265.81 L1047.3 264.83 L1048.61 263.85 L1049.91 262.86 L1051.22 261.86 L1052.52 260.85 L1053.83 259.84 L1055.13 258.82 L1056.44 257.8 L1057.74 256.76 L1059.05 255.73 L1060.35 254.68 L1061.66 253.63 L1062.97 252.57 L1064.27 251.51 L1065.58 250.44 L1066.88 249.36 L1068.19 248.28 L1069.49 247.2 L1070.8 246.11 L1072.1 245.01 L1073.41 243.91 L1074.71 242.8 L1076.02 241.69 L1077.32 240.57 L1078.63 239.45 L1079.93 238.32 L1081.24 237.19 L1082.55 236.06 L1083.85 234.92 L1085.16 233.78 L1086.46 232.63 L1087.77 231.48 L1089.07 230.33 L1090.38 229.17 L1091.68 228.01 L1092.99 226.84 L1094.29 225.67 L1095.6 224.5 L1096.9 223.33 L1098.21 222.15 L1099.51 220.97 L1100.82 219.79 L1102.13 218.6 L1103.43 217.41 L1104.74 216.22 L1106.04 215.03 L1107.35 213.84 L1108.65 212.64 L1109.96 211.44 L1111.26 210.24 L1112.57 209.04 L1113.87 207.84 L1115.18 206.64 L1116.48 205.43 L1117.79 204.23 L1119.1 203.02 L1120.4 201.81 L1121.71 200.6 L1123.01 199.39 L1124.32 198.18 L1125.62 196.97 L1126.93 195.76 L1128.23 194.55 L1129.54 193.34 L1130.84 192.12 L1132.15 190.91 L1133.45 189.7 L1134.76 188.49 L1136.06 187.28 L1137.37 186.07 L1138.68 184.86 L1139.98 183.66 L1141.29 182.45 L1142.59 181.24 L1143.9 180.04 L1145.2 178.83 L1146.51 177.63 L1147.81 176.43 L1149.12 175.23 L1150.42 174.03 L1151.73 172.83 L1153.03 171.63 L1154.34 170.44 L1155.65 169.24 L1156.95 168.05 L1158.26 166.86 L1159.56 165.67 L1160.87 164.48 L1162.17 163.29 L1163.48 162.1 L1164.78 160.92 L1166.09 159.74 L1167.39 158.55 L1168.7 157.38 L1170 156.2 L1171.31 155.02 L1172.61 153.85 L1173.92 152.68 L1175.23 151.51 L1176.53 150.34 L1177.84 149.17 L1179.14 148.01 L1180.45 146.85 L1181.75 145.69 L1183.06 144.53 L1184.36 143.38 L1185.67 142.23 L1186.97 141.08 L1188.28 139.93 L1189.58 138.78 L1190.89 137.64 L1192.19 136.5 L1193.5 135.37 L1194.81 134.23 L1196.11 133.1 L1197.42 131.97 L1198.72 130.84 L1200.03 129.72 L1201.33 128.6 L1202.64 127.48 L1203.94 126.37 L1205.25 125.26 L1206.55 124.15 L1207.86 123.04 L1209.16 121.94 L1210.47 120.84 L1211.78 119.75 L1213.08 118.65 L1214.39 117.56 L1215.69 116.48 L1217 115.4 L1218.3 114.32 L1219.61 113.24 L1220.91 112.17 L1222.22 111.1 L1223.52 110.04 L1224.83 108.98 L1226.13 107.92 L1227.44 106.87 L1228.74 105.82 L1230.05 104.77 L1231.36 103.73 L1232.66 102.69 L1233.97 101.66 L1235.27 100.63 L1236.58 99.6 L1237.88 98.58 L1239.19 97.56 L1240.49 96.55 L1241.8 95.54 L1243.1 94.54 L1244.41 93.54 L1245.71 92.54 L1247.02 91.55 L1248.32 90.56 L1249.63 89.58 L1250.94 88.6 L1252.24 87.63 L1253.55 86.66 L1254.85 85.7 L1256.16 84.74 L1257.46 83.79 L1258.77 82.84 L1260.07 81.89 L1261.38 80.95 L1262.68 80.02 L1263.99 79.09 L1265.29 78.17 L1266.6 77.25 L1267.91 76.33 L1269.21 75.42 L1270.52 74.52 L1271.82 73.62 L1273.13 72.73 L1274.43 71.84 L1275.74 70.96 L1277.04 70.09 L1278.35 69.21 L1279.65 68.35 L1280.96 67.49 L1282.26 66.64 L1283.57 65.79 L1284.87 64.94 L1286.18 64.11 L1287.49 63.28 L1288.79 62.45 L1290.1 61.63 L1291.4 60.82 L1292.71 60.01 L1294.01 59.21 L1295.32 58.42 L1296.62 57.63 L1297.93 56.85 L1299.23 56.07 L1300.54 55.3 L1301.84 54.54 L1303.15 53.78 L1304.45 53.03 L1305.76 52.28 L1307.07 51.55 L1308.37 50.82 L1309.68 50.09 L1310.98 49.37 L1312.29 48.66 L1313.59 47.96 L1314.9 47.26 L1316.2 46.57 L1317.51 45.89 L1318.8 45.22" fill="none" stroke="#808000" stroke-width="7.9" stroke-linecap="square" stroke-linejoin="round"/><line x1="745.24" y1="32.43" x2="1319.6" y2="32.43" stroke="#0000ff" stroke-opacity="0.8" stroke-width="1.5"/><line x1="1136.65" y1="0.91" x2="1136.65" y2="375.52" stroke="#0000ff" stroke-opacity="0.8" stroke-width="1.5"/></g>
<rect x="745.24" y="0.91" width="574.35" height="374.6" fill="none" stroke="#000" stroke-width="2.05"/>
<path d="M771.35 375.52V385.02M875.78 375.52V385.02M980.21 375.52V385.02M1084.63 375.52V385.02M1189.06 375.52V385.02M1293.49 375.52V385.02M745.24 344.3H735.74M745.24 281.87H735.74M745.24 219.43H735.74M745.24 157H735.74M745.24 94.56H735.74M745.24 32.13H735.74" stroke="#000" stroke-width="2.05" fill="none"/>
<g clip-path="url(#clipc)"><path d="M348.7 735.51 L350.01 734.86 L351.31 734.23 L352.62 733.62 L353.92 733.02 L355.23 732.44 L356.53 731.87 L357.84 731.32 L359.14 730.78 L360.45 730.25 L361.75 729.73 L363.06 729.22 L364.36 728.72 L365.67 728.23 L366.97 727.74 L368.28 727.26 L369.59 726.78 L370.89 726.31 L372.2 725.84 L373.5 725.37 L374.81 724.9 L376.11 724.43 L377.42 723.96 L378.72 723.48 L380.03 723.01 L381.33 722.52 L382.64 722.03 L383.94 721.54 L385.25 721.04 L386.56 720.52 L387.86 720 L389.17 719.47 L390.47 718.92 L391.78 718.37 L393.08 717.8 L394.39 717.21 L395.69 716.61 L397 715.99 L398.3 715.35 L399.61 714.7 L400.91 714.02 L402.22 713.32 L403.52 712.6 L404.83 711.86 L406.14 711.1 L407.44 710.3 L408.75 709.49 L410.05 708.64 L411.36 707.77 L412.66 706.87 L413.97 705.94 L415.27 704.97 L416.58 703.98 L417.88 702.95 L419.19 701.89 L420.49 700.79 L421.8 699.65 L423.1 698.48 L424.41 697.27 L425.72 696.02 L427.02 694.73 L428.33 693.4 L429.63 692.03 L430.94 690.62 L432.24 689.16 L433.55 687.68 L434.85 686.15 L436.16 684.59 L437.46 682.99 L438.77 681.36 L440.07 679.69 L441.38 677.99 L442.69 676.26 L443.99 674.5 L445.3 672.71 L446.6 670.89 L447.91 669.04 L449.21 667.16 L450.52 665.26 L451.82 663.33 L453.13 661.38 L454.43 659.4 L455.74 657.4 L457.04 655.37 L458.35 653.33 L459.65 651.26 L460.96 649.18 L462.27 647.07 L463.57 644.95 L464.88 642.81 L466.18 640.65 L467.49 638.48 L468.79 636.29 L470.1 634.09 L471.4 631.88 L472.71 629.66 L474.01 627.42 L475.32 625.17 L476.62 622.92 L477.93 620.66 L479.23 618.38 L480.54 616.11 L481.85 613.82 L483.15 611.53 L484.46 609.24 L485.76 606.94 L487.07 604.64 L488.37 602.34 L489.68 600.04 L490.98 597.74 L492.29 595.44 L493.59 593.14 L494.9 590.85 L496.2 588.56 L497.51 586.27 L498.82 583.99 L500.12 581.71 L501.43 579.45 L502.73 577.19 L504.04 574.94 L505.34 572.69 L506.65 570.46 L507.95 568.24 L509.26 566.03 L510.56 563.83 L511.87 561.64 L513.17 559.46 L514.48 557.29 L515.78 555.14 L517.09 552.99 L518.4 550.85 L519.7 548.72 L521.01 546.6 L522.31 544.5 L523.62 542.4 L524.92 540.31 L526.23 538.24 L527.53 536.17 L528.84 534.12 L530.14 532.07 L531.45 530.03 L532.75 528.01 L534.06 525.99 L535.37 523.99 L536.67 522 L537.98 520.01 L539.28 518.04 L540.59 516.07 L541.89 514.12 L543.2 512.18 L544.5 510.24 L545.81 508.32 L547.11 506.41 L548.42 504.5 L549.72 502.61 L551.03 500.73 L552.33 498.85 L553.64 496.99 L554.95 495.14 L556.25 493.3 L557.56 491.46 L558.86 489.64 L560.17 487.83 L561.47 486.03 L562.78 484.24 L564.08 482.45 L565.39 480.68 L566.69 478.92 L568 477.17 L569.3 475.42 L570.61 473.69 L571.91 471.97 L573.22 470.26 L574.53 468.56 L575.83 466.86 L577.14 465.18 L578.44 463.51 L579.75 461.85 L581.05 460.19 L582.36 458.55 L583.66 456.92 L584.97 455.3 L586.27 453.68 L587.58 452.08 L588.88 450.49 L590.19 448.91 L591.5 447.33 L592.8 445.77 L594.11 444.21 L595.41 442.67 L596.72 441.14 L598.02 439.61 L599.33 438.1 L600.63 436.59 L601.94 435.1 L603.24 433.61 L604.55 432.14 L605.85 430.67 L607.16 429.22 L608.46 427.77 L609.77 426.34 L611.08 424.91 L612.38 423.49 L613.69 422.09 L614.99 420.69 L616.3 419.3 L617.6 417.92 L618.91 416.56 L620.21 415.2 L621.52 413.85 L622.82 412.51 L624.13 411.18 L625.43 409.86 L626.74 408.55 L628.04 407.25 L629.35 405.96 L630.66 404.68 L631.96 403.41 L633.27 402.15 L634.57 400.89 L635.88 399.65 L637.18 398.42 L638.49 397.19 L639.79 395.98 L640 395.79" fill="none" stroke="#ffa500" stroke-width="7.9" stroke-linecap="square" stroke-linejoin="round"/><path d="M348.7 735.5 L350.01 735.09 L351.31 734.68 L352.62 734.27 L353.92 733.86 L355.23 733.45 L356.53 733.04 L357.84 732.63 L359.14 732.21 L360.45 731.79 L361.75 731.37 L363.06 730.95 L364.36 730.52 L365.67 730.09 L366.97 729.66 L368.28 729.22 L369.59 728.77 L370.89 728.32 L372.2 727.86 L373.5 727.4 L374.81 726.93 L376.11 726.45 L377.42 725.96 L378.72 725.47 L380.03 724.96 L381.33 724.45 L382.64 723.93 L383.94 723.4 L385.25 722.85 L386.56 722.3 L387.86 721.74 L389.17 721.16 L390.47 720.57 L391.78 719.97 L393.08 719.36 L394.39 718.73 L395.69 718.09 L397 717.44 L398.3 716.77 L399.61 716.08 L400.91 715.39 L402.22 714.67 L403.52 713.94 L404.83 713.19 L406.14 712.43 L407.44 711.64 L408.75 710.84 L410.05 710.02 L411.36 709.19 L412.66 708.33 L413.97 707.45 L415.27 706.55 L416.58 705.64 L417.88 704.7 L419.19 703.74 L420.49 702.76 L421.8 701.75 L423.1 700.73 L424.41 699.68 L425.72 698.6 L427.02 697.5 L428.33 696.38 L429.63 695.23 L430.94 694.05 L432.24 692.85 L433.55 691.62 L434.85 690.36 L436.16 689.07 L437.46 687.76 L438.77 686.41 L440.07 685.04 L441.38 683.63 L442.69 682.2 L443.99 680.73 L445.3 679.23 L446.6 677.7 L447.91 676.13 L449.21 674.54 L450.52 672.91 L451.82 671.25 L453.13 669.56 L454.43 667.85 L455.74 666.1 L457.04 664.33 L458.35 662.53 L459.65 660.71 L460.96 658.86 L462.27 656.98 L463.57 655.09 L464.88 653.17 L466.18 651.23 L467.49 649.27 L468.79 647.28 L470.1 645.28 L471.4 643.26 L472.71 641.23 L474.01 639.17 L475.32 637.1 L476.62 635.02 L477.93 632.91 L479.23 630.8 L480.54 628.67 L481.85 626.54 L483.15 624.38 L484.46 622.22 L485.76 620.05 L487.07 617.87 L488.37 615.69 L489.68 613.49 L490.98 611.29 L492.29 609.08 L493.59 606.87 L494.9 604.65 L496.2 602.43 L497.51 600.21 L498.82 597.99 L500.12 595.76 L501.43 593.54 L502.73 591.31 L504.04 589.09 L505.34 586.87 L506.65 584.65 L507.95 582.44 L509.26 580.23 L510.56 578.03 L511.87 575.83 L513.17 573.64 L514.48 571.46 L515.78 569.28 L517.09 567.12 L518.4 564.97 L519.7 562.82 L521.01 560.69 L522.31 558.57 L523.62 556.47 L524.92 554.37 L526.23 552.29 L527.53 550.22 L528.84 548.16 L530.14 546.12 L531.45 544.08 L532.75 542.05 L534.06 540.04 L535.37 538.03 L536.67 536.03 L537.98 534.04 L539.28 532.06 L540.59 530.09 L541.89 528.13 L543.2 526.17 L544.5 524.22 L545.81 522.28 L547.11 520.34 L548.42 518.41 L549.72 516.49 L551.03 514.57 L552.33 512.66 L553.64 510.75 L554.95 508.85 L556.25 506.96 L557.56 505.07 L558.86 503.2 L560.17 501.33 L561.47 499.46 L562.78 497.61 L564.08 495.77 L565.39 493.93 L566.69 492.11 L568 490.29 L569.3 488.49 L570.61 486.69 L571.91 484.91 L573.22 483.14 L574.53 481.38 L575.83 479.63 L577.14 477.9 L578.44 476.18 L579.75 474.47 L581.05 472.78 L582.36 471.1 L583.66 469.43 L584.97 467.78 L586.27 466.15 L587.58 464.53 L588.88 462.92 L590.19 461.34 L591.5 459.77 L592.8 458.21 L594.11 456.67 L595.41 455.15 L596.72 453.64 L598.02 452.15 L599.33 450.67 L600.63 449.21 L601.94 447.75 L603.24 446.32 L604.55 444.89 L605.85 443.48 L607.16 442.08 L608.46 440.69 L609.77 439.31 L611.08 437.94 L612.38 436.58 L613.69 435.23 L614.99 433.89 L616.3 432.57 L617.6 431.25 L618.91 429.93 L620.21 428.63 L621.52 427.33 L622.82 426.04 L624.13 424.76 L625.43 423.49 L626.74 422.22 L628.04 420.95 L629.35 419.69 L630.66 418.44 L631.96 417.19 L633.27 415.94 L634.57 414.7 L635.88 413.46 L637.18 412.23 L638.49 410.99 L639.79 409.76 L641.1 408.53 L642.4 407.31 L643.71 406.08 L645.01 404.85 L646.32 403.63 L647.63 402.4 L648.93 401.17 L650 400.17" fill="none" stroke="#ff0000" stroke-width="7.9" stroke-linecap="square" stroke-linejoin="round"/><path d="M136.6 405 L137.91 414.57 L139.21 424.07 L140.52 433.54 L141.82 443.03 L143.13 452.55 L144.43 462.08 L145.74 471.61 L147.04 481.14 L148.35 490.69 L149.65 500.25 L150.96 509.82 L152.26 519.4 L153.57 529 L154.87 538.61 L156.18 548.24 L157.49 557.89 L158.79 567.1 L160.1 576.3 L161.4 586.9 L162.71 602.27 L164.01 619.24 L165.32 629.21 L166.62 635.96 L167.93 641.37 L169.23 645.93 L170.54 650.12 L171.84 653.75 L173.15 656.74 L174.46 659.71 L175.76 663.27 L177.07 668.3 L178.37 675.32 L179.68 682.74 L180.98 688.87 L182.29 693.22 L183.59 696.96 L184.9 700.3 L186.2 703.42 L187.51 706.53 L188.81 709.82 L190.12 713.34 L191.42 716.95 L192.73 720.51 L194.04 723.85 L195.34 726.84 L196.65 729.31 L197.95 731.28 L199.26 732.94 L200.56 734.42 L201.87 735.85 L203.17 737.34 L204.48 739.02 L205.78 741.11 L207.09 743.45 L208.39 745.78 L209.7 747.82 L211 749.32 L212.31 750.02 L213.62 750.31 L214.92 750.57 L216.23 750.81 L217.53 751.04 L218.84 751.24 L220.14 751.43 L221.45 751.6 L222.75 751.75 L224.06 751.88 L225.36 752 L226.67 752.1 L227.97 752.19 L229.28 752.26 L230.59 752.32 L231.89 752.36 L233.2 752.38 L234.5 752.4 L235.81 752.39 L237.11 752.34 L238.42 752.23 L239.72 752.08 L241.03 751.89 L242.33 751.68 L243.64 751.45 L244.94 751.21 L246.25 750.97 L247.55 750.74 L248.86 750.53 L250.17 750.34 L251.47 750.18 L252.78 750.07 L254.08 750.01 L255.39 750 L256.69 750.01 L258 750.03 L259.3 750.05 L260.61 750.08 L261.91 750.11 L263.22 750.14 L264.52 750.16 L265.83 750.18 L267.14 750.2 L268.44 750.2 L269.75 750.16 L271.05 750.06 L272.36 749.93 L273.66 749.75 L274.97 749.54 L276.27 749.3 L277.58 749.04 L278.88 748.76 L280.19 748.47 L281.49 748.16 L282.8 747.86 L284.1 747.56 L285.41 747.27 L286.72 746.99 L288.02 746.69 L289.33 746.38 L290.63 746.05 L291.94 745.7 L293.24 745.35 L294.55 744.98 L295.85 744.6 L297.16 744.22 L298.46 743.83 L299.77 743.44 L301.07 743.05 L302.38 742.66 L303.68 742.28 L304.99 741.89 L306.3 741.47 L307.6 741.01 L308.91 740.54 L310.21 740.06 L311.52 739.6 L312.82 739.16 L314.13 738.77 L315.43 738.43 L316.74 738.16 L318.04 737.98 L319.35 737.86 L320.65 737.75 L321.96 737.66 L323.27 737.58 L324.57 737.51 L325.88 737.45 L327.18 737.38 L328.49 737.31 L329.79 737.23 L331.1 737.13 L332.4 737.02 L333.71 736.88 L335.01 736.73 L336.32 736.56 L337.62 736.39 L338.93 736.22 L340.23 736.06 L341.54 735.92 L342.85 735.8 L344.15 735.7 L345.46 735.63 L346.76 735.57 L348.07 735.52 L348.7 735.5" fill="none" stroke="#ffa500" stroke-width="7.9" stroke-linecap="square" stroke-linejoin="round"/><path d="M347.4 729.11 L348.71 728.36 L350.01 727.62 L351.32 726.9 L352.62 726.19 L353.93 725.49 L355.23 724.8 L356.54 724.12 L357.84 723.44 L359.15 722.78 L360.45 722.12 L361.76 721.46 L363.06 720.8 L364.37 720.15 L365.67 719.49 L366.98 718.83 L368.29 718.17 L369.59 717.51 L370.9 716.84 L372.2 716.16 L373.51 715.48 L374.81 714.79 L376.12 714.08 L377.42 713.37 L378.73 712.64 L380.03 711.9 L381.34 711.14 L382.64 710.36 L383.95 709.57 L385.26 708.76 L386.56 707.93 L387.87 707.07 L389.17 706.19 L390.48 705.29 L391.78 704.36 L393.09 703.4 L394.39 702.42 L395.7 701.4 L397 700.36 L398.31 699.28 L399.61 698.17 L400.92 697.02 L402.22 695.84 L403.53 694.62 L404.84 693.37 L406.14 692.08 L407.45 690.75 L408.75 689.38 L410.06 687.98 L411.36 686.53 L412.67 685.05 L413.97 683.53 L415.28 681.97 L416.58 680.37 L417.89 678.73 L419.19 677.05 L420.5 675.33 L421.8 673.57 L423.11 671.77 L424.42 669.93 L425.72 668.04 L427.03 666.11 L428.33 664.14 L429.64 662.13 L430.94 660.08 L432.25 657.98 L433.55 655.85 L434.86 653.68 L436.16 651.48 L437.47 649.25 L438.77 646.99 L440.08 644.71 L441.39 642.42 L442.69 640.1 L444 637.77 L445.3 635.43 L446.61 633.08 L447.91 630.71 L449.22 628.34 L450.52 625.95 L451.83 623.55 L453.13 621.15 L454.44 618.73 L455.74 616.31 L457.05 613.88 L458.35 611.44 L459.66 609 L460.97 606.55 L462.27 604.1 L463.58 601.65 L464.88 599.19 L466.19 596.73 L467.49 594.27 L468.8 591.8 L470.1 589.34 L471.41 586.87 L472.71 584.41 L474.02 581.95 L475.32 579.49 L476.63 577.03 L477.93 574.58 L479.24 572.13 L480.55 569.68 L481.85 567.25 L483.16 564.81 L484.46 562.39 L485.77 559.97 L487.07 557.56 L488.38 555.15 L489.68 552.76 L490.99 550.38 L492.29 548.01 L493.6 545.65 L494.9 543.3 L496.21 540.96 L497.52 538.64 L498.82 536.33 L500.13 534.04 L501.43 531.76 L502.74 529.5 L504.04 527.26 L505.35 525.03 L506.65 522.82 L507.96 520.63 L509.26 518.45 L510.57 516.29 L511.87 514.15 L513.18 512.02 L514.48 509.92 L515.79 507.82 L517.1 505.74 L518.4 503.68 L519.71 501.63 L521.01 499.6 L522.32 497.58 L523.62 495.58 L524.93 493.59 L526.23 491.61 L527.54 489.65 L528.84 487.7 L530.15 485.77 L531.45 483.84 L532.76 481.93 L534.07 480.03 L535.37 478.14 L536.68 476.27 L537.98 474.4 L539.29 472.55 L540.59 470.7 L541.9 468.87 L543.2 467.05 L544.51 465.24 L545.81 463.43 L547.12 461.64 L548.42 459.85 L549.73 458.08 L551.03 456.31 L552.34 454.55 L553.65 452.8 L554.95 451.06 L556.26 449.32 L557.56 447.59 L558.87 445.87 L560.17 444.15 L561.48 442.44 L562.78 440.74 L564.09 439.04 L565.39 437.35 L566.7 435.67 L568 433.98 L569.31 432.31 L570.61 430.64 L571.92 428.97 L573.23 427.3 L574.53 425.64 L575.84 423.99 L577.14 422.33 L578.45 420.68 L579.75 419.03 L581.06 417.38 L582.36 415.74 L583.67 414.1 L584.97 412.46 L586.28 410.82 L587.58 409.18 L588.89 407.54 L590.2 405.9 L591.5 404.26 L592.81 402.62 L594.11 400.98 L595.42 399.35 L596.72 397.7 L598.03 396.06 L599.33 394.42 L600 393.58" fill="none" stroke="#ff7f50" stroke-width="7.9" stroke-linecap="square" stroke-linejoin="round"/><path d="M348.6 736.4 L349.91 736.39 L351.21 736.33 L352.52 736.23 L353.82 736.07 L355.13 735.87 L356.43 735.62 L357.74 735.34 L359.04 735.01 L360.35 734.64 L361.65 734.24 L362.96 733.8 L364.26 733.33 L365.57 732.82 L366.87 732.29 L368.18 731.72 L369.49 731.13 L370.79 730.52 L372.1 729.88 L373.4 729.22 L374.71 728.54 L376.01 727.84 L377.32 727.12 L378.62 726.39 L379.93 725.65 L381.23 724.9 L382.54 724.13 L383.84 723.36 L385.15 722.58 L386.46 721.8 L387.76 721.02 L389.07 720.23 L390.37 719.44 L391.68 718.66 L392.98 717.88 L394.29 717.11 L395.59 716.35 L396.9 715.59 L398.2 714.85 L399.51 714.12 L400.81 713.4 L402.12 712.7 L403.42 712.01 L404.73 711.34 L406.04 710.68 L407.34 710.03 L408.65 709.39 L409.95 708.76 L411.26 708.13 L412.56 707.51 L413.87 706.89 L415.17 706.28 L416.48 705.66 L417.78 705.04 L419.09 704.43 L420.39 703.8 L421.7 703.18 L423 702.54 L424.31 701.9 L425.62 701.25 L426.92 700.58 L428.23 699.91 L429.53 699.22 L430.84 698.51 L432.14 697.79 L433.45 697.05 L434.75 696.29 L436.06 695.5 L437.36 694.7 L438.67 693.87 L439.97 693.02 L441.28 692.13 L442.59 691.22 L443.89 690.28 L445.2 689.31 L446.5 688.31 L447.81 687.27 L449.11 686.19 L450.42 685.08 L451.72 683.93 L453.03 682.74 L454.33 681.51 L455.64 680.24 L456.94 678.93 L458.25 677.58 L459.55 676.19 L460.86 674.77 L462.17 673.32 L463.47 671.83 L464.78 670.31 L466.08 668.77 L467.39 667.19 L468.69 665.59 L470 663.97 L471.3 662.31 L472.61 660.64 L473.91 658.95 L475.22 657.23 L476.52 655.5 L477.83 653.75 L479.13 651.98 L480.44 650.2 L481.75 648.4 L483.05 646.59 L484.36 644.78 L485.66 642.95 L486.97 641.12 L488.27 639.28 L489.58 637.43 L490.88 635.58 L492.19 633.73 L493.49 631.88 L494.8 630.02 L496.1 628.17 L497.41 626.32 L498.72 624.48 L500.02 622.64 L501.33 620.81 L502.63 618.99 L503.94 617.18 L505.24 615.38 L506.55 613.59 L507.85 611.81 L509.16 610.05 L510.46 608.29 L511.77 606.55 L513.07 604.83 L514.38 603.11 L515.68 601.4 L516.99 599.71 L518.3 598.03 L519.6 596.36 L520.91 594.7 L522.21 593.05 L523.52 591.41 L524.82 589.78 L526.13 588.17 L527.43 586.56 L528.74 584.97 L530.04 583.38 L531.35 581.81 L532.65 580.25 L533.96 578.7 L535.27 577.15 L536.57 575.62 L537.88 574.1 L539.18 572.59 L540.49 571.08 L541.79 569.59 L543.1 568.11 L544.4 566.64 L545.71 565.17 L547.01 563.72 L548.32 562.27 L549.62 560.84 L550.93 559.41 L552.23 557.99 L553.54 556.58 L554.85 555.18 L556.15 553.79 L557.46 552.41 L558.76 551.03 L560.07 549.67 L561.37 548.31 L562.68 546.96 L563.98 545.62 L565.29 544.29 L566.59 542.96 L567.9 541.64 L569.2 540.33 L570.51 539.03 L571.81 537.74 L573.12 536.45 L574.43 535.17 L575.73 533.9 L577.04 532.64 L578.34 531.38 L579.65 530.13 L580.95 528.88 L582.26 527.65 L583.56 526.42 L584.87 525.19 L586.17 523.98 L587.48 522.76 L588.78 521.56 L590.09 520.36 L591.4 519.17 L592.7 517.98 L594.01 516.81 L595.31 515.63 L596.62 514.46 L597.92 513.3 L599.23 512.14 L600.53 510.99 L601.84 509.85 L603.14 508.71 L604.45 507.57 L605.75 506.44 L607.06 505.32 L608.36 504.2 L609.67 503.08 L610.98 501.97 L612.28 500.86 L613.59 499.76 L614.89 498.67 L616.2 497.57 L617.5 496.49 L618.81 495.4 L620.11 494.32 L621.42 493.25 L622.72 492.17 L624.03 491.11 L625.33 490.04 L626.64 488.98 L627.94 487.92 L629.25 486.87 L630.56 485.82 L631.86 484.77 L633.17 483.73 L634.47 482.69 L635.78 481.65 L637.08 480.61 L638.39 479.58 L639.69 478.55 L641 477.53 L642.3 476.5 L643.61 475.48 L644.91 474.46 L646.22 473.44 L647.53 472.43 L648.83 471.41 L650.14 470.4 L651.44 469.39 L652.75 468.38 L654.05 467.38 L655.36 466.37 L656.66 465.37 L657.97 464.37 L659.27 463.37 L660.58 462.37 L661.88 461.37 L663.19 460.37 L664.49 459.37 L665.8 458.38 L667.11 457.38 L668.41 456.39 L669.72 455.4 L671.02 454.4 L672.33 453.41 L673.63 452.42 L674.94 451.42 L676.24 450.43 L677.55 449.44 L678.85 448.45 L680.16 447.45 L681.46 446.46 L682.77 445.47 L684.07 444.47 L685.38 443.48 L686.69 442.48 L687.99 441.48 L689.3 440.49 L690 439.95" fill="none" stroke="#808000" stroke-width="7.9" stroke-linecap="square" stroke-linejoin="round"/><line x1="113.69" y1="444.33" x2="688.05" y2="444.33" stroke="#0000ff" stroke-opacity="0.8" stroke-width="1.5"/><line x1="505.1" y1="412.81" x2="505.1" y2="787.42" stroke="#0000ff" stroke-opacity="0.8" stroke-width="1.5"/></g>
<rect x="113.69" y="412.81" width="574.35" height="374.6" fill="none" stroke="#000" stroke-width="2.05"/>
<path d="M139.8 787.42V796.92M244.23 787.42V796.92M348.66 787.42V796.92M453.08 787.42V796.92M557.51 787.42V796.92M661.94 787.42V796.92M113.69 756.2H104.19M113.69 693.77H104.19M113.69 631.33H104.19M113.69 568.9H104.19M113.69 506.46H104.19M113.69 444.03H104.19" stroke="#000" stroke-width="2.05" fill="none"/>
<text x="92.99" y="766.5" text-anchor="end" font-size="29.3">0</text><text x="92.99" y="704.07" text-anchor="end" font-size="29.3">20</text><text x="92.99" y="641.63" text-anchor="end" font-size="29.3">40</text><text x="92.99" y="579.2" text-anchor="end" font-size="29.3">60</text><text x="92.99" y="516.76" text-anchor="end" font-size="29.3">80</text><text x="92.99" y="454.33" text-anchor="end" font-size="29.3">100</text>
<text transform="translate(23.4 600.12) rotate(-90)" text-anchor="middle" font-size="29.3">Ozone recovery (%)</text>
<g clip-path="url(#clipd)"><line x1="745.24" y1="506.46" x2="1319.6" y2="506.46" stroke="#d8d8d8" stroke-width="1.1" stroke-dasharray="15.1 6.5"/><path d="M980 710.59 L981.31 709.57 L982.61 708.52 L983.92 707.46 L985.22 706.38 L986.53 705.28 L987.83 704.17 L989.14 703.04 L990.44 701.89 L991.75 700.73 L993.05 699.54 L994.36 698.35 L995.66 697.13 L996.97 695.9 L998.27 694.66 L999.58 693.4 L1000.89 692.12 L1002.19 690.83 L1003.5 689.53 L1004.8 688.21 L1006.11 686.87 L1007.41 685.53 L1008.72 684.17 L1010.02 682.79 L1011.33 681.4 L1012.63 680 L1013.94 678.59 L1015.24 677.16 L1016.55 675.72 L1017.86 674.27 L1019.16 672.81 L1020.47 671.33 L1021.77 669.85 L1023.08 668.35 L1024.38 666.84 L1025.69 665.32 L1026.99 663.79 L1028.3 662.25 L1029.6 660.7 L1030.91 659.14 L1032.21 657.57 L1033.52 655.99 L1034.82 654.41 L1036.13 652.81 L1037.44 651.2 L1038.74 649.59 L1040.05 647.96 L1041.35 646.33 L1042.66 644.69 L1043.96 643.05 L1045.27 641.39 L1046.57 639.73 L1047.88 638.06 L1049.18 636.39 L1050.49 634.71 L1051.79 633.02 L1053.1 631.33 L1054.4 629.63 L1055.71 627.92 L1057.02 626.21 L1058.32 624.49 L1059.63 622.77 L1060.93 621.05 L1062.24 619.32 L1063.54 617.58 L1064.85 615.84 L1066.15 614.1 L1067.46 612.36 L1068.76 610.61 L1070.07 608.85 L1071.37 607.1 L1072.68 605.34 L1073.99 603.58 L1075.29 601.82 L1076.6 600.05 L1077.9 598.29 L1079.21 596.52 L1080.51 594.75 L1081.82 592.98 L1083.12 591.21 L1084.43 589.43 L1085.73 587.66 L1087.04 585.89 L1088.34 584.12 L1089.65 582.34 L1090.95 580.57 L1092.26 578.8 L1093.57 577.03 L1094.87 575.26 L1096.18 573.49 L1097.48 571.73 L1098.79 569.96 L1100.09 568.2 L1101.4 566.44 L1102.7 564.68 L1104.01 562.93 L1105.31 561.17 L1106.62 559.43 L1107.92 557.68 L1109.23 555.94 L1110.54 554.2 L1111.84 552.47 L1113.15 550.74 L1114.45 549.01 L1115.76 547.29 L1117.06 545.58 L1118.37 543.87 L1119.67 542.16 L1120.98 540.46 L1122.28 538.77 L1123.59 537.08 L1124.89 535.4 L1126.2 533.73 L1127.5 532.06 L1128.81 530.4 L1130.12 528.74 L1131.42 527.1 L1132.73 525.46 L1134.03 523.83 L1135.34 522.21 L1136.64 520.59 L1137.95 518.99 L1139.25 517.39 L1140.56 515.8 L1141.86 514.22 L1143.17 512.66 L1144.47 511.1 L1145.78 509.55 L1147.08 508.01 L1148.39 506.48 L1149.7 504.96 L1151 503.45 L1152.31 501.96 L1153.61 500.47 L1154.92 499 L1156.22 497.54 L1157.53 496.09 L1158.83 494.65 L1160.14 493.23 L1161.44 491.81 L1162.75 490.41 L1164.05 489.03 L1165.36 487.65 L1166.67 486.29 L1167.97 484.95 L1169.28 483.62 L1170.58 482.3 L1171.89 480.99 L1173.19 479.71 L1174.5 478.43 L1175.8 477.17 L1177.11 475.93 L1178.41 474.7 L1179.72 473.49 L1181.02 472.29 L1182.33 471.11 L1183.63 469.95 L1184.94 468.8 L1186.25 467.67 L1187.55 466.56 L1188.86 465.47 L1190.16 464.39 L1191.47 463.33 L1192.77 462.28 L1194.08 461.26 L1195.38 460.25 L1196.69 459.26 L1197.99 458.29 L1199.3 457.33 L1200.6 456.39 L1201.91 455.47 L1203.21 454.57 L1204.52 453.68 L1205.83 452.81 L1207.13 451.95 L1208.44 451.11 L1209.74 450.29 L1211.05 449.48 L1212.35 448.69 L1213.66 447.91 L1214.96 447.15 L1216.27 446.41 L1217.57 445.68 L1218.88 444.96 L1220.18 444.27 L1221.49 443.58 L1222.8 442.91 L1224.1 442.26 L1225.41 441.62 L1226.71 441 L1228.02 440.39 L1229.32 439.79 L1230.63 439.21 L1231.93 438.64 L1233.24 438.09 L1234.54 437.55 L1235.85 437.03 L1237.15 436.52 L1238.46 436.02 L1239.76 435.53 L1241.07 435.06 L1242.38 434.6 L1243.68 434.16 L1244.99 433.73 L1246.29 433.31 L1247.6 432.9 L1248.9 432.51 L1250.21 432.13 L1251.51 431.76 L1252.82 431.41 L1254.12 431.06 L1255.43 430.73 L1256.73 430.41 L1258.04 430.1 L1259.34 429.81 L1260.65 429.52 L1261.96 429.25 L1263.26 428.99 L1264.57 428.74 L1265.87 428.5 L1267.18 428.27 L1268.48 428.05 L1269.79 427.85 L1271.09 427.65 L1272.4 427.46 L1273.7 427.29 L1275.01 427.13 L1276.31 426.97 L1277.62 426.83 L1278.93 426.69 L1280.23 426.57 L1281.54 426.45 L1282.84 426.35 L1284.15 426.25 L1285.45 426.17 L1286.76 426.09 L1288.06 426.02 L1289.37 425.97 L1290.67 425.92 L1291.98 425.88 L1293.28 425.84 L1294.59 425.82 L1295.89 425.81 L1297.2 425.8 L1298.51 425.8 L1299.81 425.81 L1301.12 425.83 L1302.42 425.86 L1303.73 425.89 L1305.03 425.93 L1306.34 425.98 L1307.64 426.04 L1308.95 426.1 L1310.25 426.17 L1311.56 426.25 L1312.86 426.33 L1314.17 426.42 L1315.47 426.52 L1316.78 426.63 L1318.09 426.74 L1319.39 426.86 L1320 426.92" fill="none" stroke="#ffa500" stroke-width="7.9" stroke-linecap="square" stroke-linejoin="round"/><path d="M980 710.54 L981.31 709.64 L982.61 708.73 L983.92 707.79 L985.22 706.84 L986.53 705.86 L987.83 704.88 L989.14 703.87 L990.44 702.85 L991.75 701.81 L993.05 700.75 L994.36 699.67 L995.66 698.58 L996.97 697.48 L998.27 696.36 L999.58 695.22 L1000.89 694.06 L1002.19 692.9 L1003.5 691.71 L1004.8 690.51 L1006.11 689.3 L1007.41 688.07 L1008.72 686.83 L1010.02 685.58 L1011.33 684.31 L1012.63 683.02 L1013.94 681.73 L1015.24 680.42 L1016.55 679.09 L1017.86 677.76 L1019.16 676.41 L1020.47 675.05 L1021.77 673.68 L1023.08 672.3 L1024.38 670.9 L1025.69 669.49 L1026.99 668.07 L1028.3 666.65 L1029.6 665.21 L1030.91 663.75 L1032.21 662.29 L1033.52 660.82 L1034.82 659.34 L1036.13 657.85 L1037.44 656.35 L1038.74 654.84 L1040.05 653.32 L1041.35 651.79 L1042.66 650.26 L1043.96 648.71 L1045.27 647.16 L1046.57 645.6 L1047.88 644.03 L1049.18 642.45 L1050.49 640.87 L1051.79 639.28 L1053.1 637.68 L1054.4 636.07 L1055.71 634.46 L1057.02 632.84 L1058.32 631.22 L1059.63 629.59 L1060.93 627.95 L1062.24 626.31 L1063.54 624.66 L1064.85 623.01 L1066.15 621.36 L1067.46 619.69 L1068.76 618.03 L1070.07 616.36 L1071.37 614.68 L1072.68 613.01 L1073.99 611.33 L1075.29 609.64 L1076.6 607.95 L1077.9 606.26 L1079.21 604.57 L1080.51 602.87 L1081.82 601.17 L1083.12 599.47 L1084.43 597.77 L1085.73 596.07 L1087.04 594.36 L1088.34 592.65 L1089.65 590.95 L1090.95 589.24 L1092.26 587.53 L1093.57 585.82 L1094.87 584.11 L1096.18 582.4 L1097.48 580.69 L1098.79 578.98 L1100.09 577.27 L1101.4 575.56 L1102.7 573.86 L1104.01 572.15 L1105.31 570.45 L1106.62 568.75 L1107.92 567.04 L1109.23 565.35 L1110.54 563.65 L1111.84 561.96 L1113.15 560.27 L1114.45 558.58 L1115.76 556.9 L1117.06 555.21 L1118.37 553.54 L1119.67 551.86 L1120.98 550.19 L1122.28 548.53 L1123.59 546.87 L1124.89 545.21 L1126.2 543.56 L1127.5 541.92 L1128.81 540.27 L1130.12 538.64 L1131.42 537.01 L1132.73 535.39 L1134.03 533.77 L1135.34 532.16 L1136.64 530.55 L1137.95 528.96 L1139.25 527.37 L1140.56 525.78 L1141.86 524.21 L1143.17 522.64 L1144.47 521.08 L1145.78 519.53 L1147.08 517.98 L1148.39 516.45 L1149.7 514.92 L1151 513.4 L1152.31 511.89 L1153.61 510.4 L1154.92 508.91 L1156.22 507.43 L1157.53 505.96 L1158.83 504.5 L1160.14 503.05 L1161.44 501.61 L1162.75 500.18 L1164.05 498.76 L1165.36 497.36 L1166.67 495.96 L1167.97 494.58 L1169.28 493.21 L1170.58 491.85 L1171.89 490.51 L1173.19 489.17 L1174.5 487.85 L1175.8 486.54 L1177.11 485.25 L1178.41 483.97 L1179.72 482.7 L1181.02 481.45 L1182.33 480.21 L1183.63 478.98 L1184.94 477.77 L1186.25 476.57 L1187.55 475.39 L1188.86 474.22 L1190.16 473.07 L1191.47 471.94 L1192.77 470.82 L1194.08 469.71 L1195.38 468.62 L1196.69 467.55 L1197.99 466.49 L1199.3 465.44 L1200.6 464.42 L1201.91 463.4 L1203.21 462.4 L1204.52 461.42 L1205.83 460.45 L1207.13 459.5 L1208.44 458.56 L1209.74 457.63 L1211.05 456.72 L1212.35 455.83 L1213.66 454.95 L1214.96 454.08 L1216.27 453.23 L1217.57 452.4 L1218.88 451.57 L1220.18 450.77 L1221.49 449.97 L1222.8 449.2 L1224.1 448.43 L1225.41 447.68 L1226.71 446.94 L1228.02 446.22 L1229.32 445.51 L1230.63 444.82 L1231.93 444.14 L1233.24 443.48 L1234.54 442.82 L1235.85 442.19 L1237.15 441.56 L1238.46 440.95 L1239.76 440.35 L1241.07 439.77 L1242.38 439.2 L1243.68 438.65 L1244.99 438.1 L1246.29 437.57 L1247.6 437.06 L1248.9 436.56 L1250.21 436.07 L1251.51 435.59 L1252.82 435.13 L1254.12 434.68 L1255.43 434.25 L1256.73 433.82 L1258.04 433.41 L1259.34 433.02 L1260.65 432.63 L1261.96 432.26 L1263.26 431.9 L1264.57 431.56 L1265.87 431.23 L1267.18 430.91 L1268.48 430.6 L1269.79 430.31 L1271.09 430.02 L1272.4 429.75 L1273.7 429.5 L1275.01 429.25 L1276.31 429.02 L1277.62 428.8 L1278.93 428.59 L1280.23 428.4 L1281.54 428.22 L1282.84 428.05 L1284.15 427.89 L1285.45 427.74 L1286.76 427.61 L1288.06 427.48 L1289.37 427.37 L1290.67 427.27 L1291.98 427.19 L1293.28 427.11 L1294.59 427.05 L1295.89 427 L1297.2 426.96 L1298.51 426.93 L1299.81 426.91 L1301.12 426.91 L1302.42 426.91 L1303.73 426.93 L1305.03 426.96 L1306.34 427 L1307.64 427.05 L1308.95 427.11 L1310.25 427.18 L1311.56 427.27 L1312.86 427.36 L1314.17 427.47 L1315.47 427.59 L1316.78 427.72 L1318.09 427.86 L1319.39 428.01 L1320 428.08" fill="none" stroke="#ff0000" stroke-width="7.9" stroke-linecap="square" stroke-linejoin="round"/><path d="M744 426.6 L745.31 426.6 L746.61 426.61 L747.92 426.62 L749.22 426.63 L750.53 426.65 L751.83 426.68 L753.14 426.71 L754.44 426.74 L755.75 426.78 L757.05 426.83 L758.36 426.89 L759.66 426.95 L760.97 427.01 L762.27 427.09 L763.58 427.17 L764.89 427.26 L766.19 427.36 L767.5 427.47 L768.8 427.58 L770.11 427.88 L771.41 428.73 L772.72 431.11 L774.02 434.78 L775.33 439.25 L776.63 444.06 L777.94 449.31 L779.24 456.64 L780.55 469.84 L781.86 491.77 L783.16 501.99 L784.47 510.75 L785.77 518.8 L787.08 524.35 L788.38 528.24 L789.69 531.58 L790.99 535.37 L792.3 540.5 L793.6 546.84 L794.91 553.62 L796.21 560.06 L797.52 565.93 L798.82 571.67 L800.13 577.39 L801.44 583.07 L802.74 588.76 L804.05 594.48 L805.35 600.28 L806.66 606.11 L807.96 611.92 L809.27 617.66 L810.57 623.28 L811.88 628.72 L813.18 633.97 L814.49 639.1 L815.79 644.2 L817.1 649.35 L818.4 654.64 L819.71 660.2 L821.02 666.17 L822.32 672.35 L823.63 678.52 L824.93 684.44 L826.24 689.91 L827.54 694.68 L828.85 698.85 L830.15 702.65 L831.46 706.19 L832.76 709.6 L834.07 712.99 L835.37 716.47 L836.68 719.78 L837.99 723.02 L839.29 726.6 L840.6 731.36 L841.9 738.29 L843.21 743.88 L844.51 745.29 L845.82 745.88 L847.12 746.33 L848.43 746.68 L849.73 746.95 L851.04 747.17 L852.34 747.38 L853.65 747.6 L854.95 747.87 L856.26 748.21 L857.57 748.6 L858.87 749.03 L860.18 749.44 L861.48 749.81 L862.79 750.1 L864.09 750.27 L865.4 750.29 L866.7 750.16 L868.01 749.91 L869.31 749.55 L870.62 749.1 L871.92 748.59 L873.23 748.03 L874.54 747.44 L875.84 746.84 L877.15 746.25 L878.45 745.7 L879.76 745.2 L881.06 744.77 L882.37 744.43 L883.67 744.2 L884.98 744.1 L886.28 744.14 L887.59 744.26 L888.89 744.45 L890.2 744.67 L891.5 744.88 L892.81 745.06 L894.12 745.17 L895.42 745.2 L896.73 745.2 L898.03 745.2 L899.34 745.2 L900.64 745.2 L901.95 745.2 L903.25 745.2 L904.56 745.19 L905.86 745.02 L907.17 744.67 L908.47 744.17 L909.78 743.55 L911.08 742.83 L912.39 742.05 L913.7 741.23 L915 740.39 L916.31 739.57 L917.61 738.79 L918.92 738.01 L920.22 737.18 L921.53 736.3 L922.83 735.37 L924.14 734.42 L925.44 733.43 L926.75 732.42 L928.05 731.39 L929.36 730.36 L930.67 729.32 L931.97 728.27 L933.28 727.09 L934.58 725.83 L935.89 724.52 L937.19 723.19 L938.5 721.89 L939.8 720.65 L941.11 719.5 L942.41 718.48 L943.72 717.64 L945.02 717 L946.33 716.46 L947.63 715.94 L948.94 715.48 L950.25 715.07 L951.55 714.74 L952.86 714.51 L954.16 714.38 L955.47 714.31 L956.77 714.25 L958.08 714.21 L959.38 714.18 L960.69 714.16 L961.99 714.13 L963.3 714.1 L964.6 714.06 L965.91 714 L967.21 713.92 L968.52 713.68 L969.83 713.08 L971.13 712.24 L972.44 711.31 L973.74 710.44 L975.05 709.79 L976.35 709.5 L977.66 709.63 L978.96 710.03 L980 710.5" fill="none" stroke="#ffa500" stroke-width="7.9" stroke-linecap="square" stroke-linejoin="round"/><path d="M980.7 699.19 L982.01 697.32 L983.31 695.47 L984.62 693.64 L985.92 691.83 L987.23 690.03 L988.53 688.25 L989.84 686.48 L991.14 684.73 L992.45 682.99 L993.75 681.26 L995.06 679.54 L996.36 677.83 L997.67 676.13 L998.97 674.44 L1000.28 672.75 L1001.59 671.07 L1002.89 669.4 L1004.2 667.73 L1005.5 666.07 L1006.81 664.41 L1008.11 662.75 L1009.42 661.09 L1010.72 659.43 L1012.03 657.77 L1013.33 656.12 L1014.64 654.45 L1015.94 652.79 L1017.25 651.12 L1018.56 649.44 L1019.86 647.76 L1021.17 646.08 L1022.47 644.38 L1023.78 642.68 L1025.08 640.97 L1026.39 639.25 L1027.69 637.52 L1029 635.77 L1030.3 634.01 L1031.61 632.24 L1032.91 630.46 L1034.22 628.66 L1035.52 626.85 L1036.83 625.02 L1038.14 623.19 L1039.44 621.34 L1040.75 619.48 L1042.05 617.61 L1043.36 615.73 L1044.66 613.84 L1045.97 611.94 L1047.27 610.04 L1048.58 608.12 L1049.88 606.2 L1051.19 604.26 L1052.49 602.33 L1053.8 600.38 L1055.1 598.43 L1056.41 596.47 L1057.72 594.51 L1059.02 592.54 L1060.33 590.57 L1061.63 588.6 L1062.94 586.62 L1064.24 584.64 L1065.55 582.65 L1066.85 580.67 L1068.16 578.68 L1069.46 576.69 L1070.77 574.7 L1072.07 572.71 L1073.38 570.72 L1074.69 568.74 L1075.99 566.75 L1077.3 564.76 L1078.6 562.78 L1079.91 560.8 L1081.21 558.82 L1082.52 556.84 L1083.82 554.87 L1085.13 552.91 L1086.43 550.95 L1087.74 548.99 L1089.04 547.04 L1090.35 545.09 L1091.65 543.16 L1092.96 541.22 L1094.27 539.3 L1095.57 537.39 L1096.88 535.48 L1098.18 533.58 L1099.49 531.69 L1100.79 529.81 L1102.1 527.95 L1103.4 526.09 L1104.71 524.24 L1106.01 522.41 L1107.32 520.58 L1108.62 518.77 L1109.93 516.97 L1111.24 515.19 L1112.54 513.42 L1113.85 511.67 L1115.15 509.92 L1116.46 508.2 L1117.76 506.49 L1119.07 504.8 L1120.37 503.12 L1121.68 501.46 L1122.98 499.82 L1124.29 498.19 L1125.59 496.59 L1126.9 495 L1128.2 493.43 L1129.51 491.88 L1130.82 490.36 L1132.12 488.85 L1133.43 487.36 L1134.73 485.9 L1136.04 484.46 L1137.34 483.04 L1138.65 481.64 L1139.95 480.27 L1141.26 478.92 L1142.56 477.59 L1143.87 476.28 L1145.17 475 L1146.48 473.73 L1147.78 472.49 L1149.09 471.27 L1150.4 470.07 L1151.7 468.89 L1153.01 467.74 L1154.31 466.6 L1155.62 465.48 L1156.92 464.39 L1158.23 463.31 L1159.53 462.25 L1160.84 461.22 L1162.14 460.2 L1163.45 459.2 L1164.75 458.22 L1166.06 457.26 L1167.37 456.32 L1168.67 455.4 L1169.98 454.5 L1171.28 453.61 L1172.59 452.75 L1173.89 451.9 L1175.2 451.07 L1176.5 450.25 L1177.81 449.46 L1179.11 448.68 L1180.42 447.92 L1181.72 447.17 L1183.03 446.45 L1184.33 445.73 L1185.64 445.04 L1186.95 444.36 L1188.25 443.7 L1189.56 443.05 L1190.86 442.42 L1192.17 441.8 L1193.47 441.2 L1194.78 440.62 L1196.08 440.05 L1197.39 439.49 L1198.69 438.95 L1200 438.42 L1201.3 437.91 L1202.61 437.41 L1203.91 436.93 L1205.22 436.46 L1206.53 436 L1207.83 435.56 L1209.14 435.13 L1210.44 434.71 L1211.75 434.31 L1213.05 433.91 L1214.36 433.53 L1215.66 433.17 L1216.97 432.81 L1218.27 432.47 L1219.58 432.14 L1220.88 431.82 L1222.19 431.51 L1223.5 431.21 L1224.8 430.92 L1226.11 430.65 L1227.41 430.38 L1228.72 430.13 L1230.02 429.89 L1231.33 429.65 L1232.63 429.43 L1233.94 429.22 L1235.24 429.01 L1236.55 428.82 L1237.85 428.63 L1239.16 428.46 L1240.46 428.29 L1241.77 428.13 L1243.08 427.98 L1244.38 427.84 L1245.69 427.7 L1246.99 427.58 L1248.3 427.46 L1249.6 427.35 L1250.91 427.25 L1252.21 427.15 L1253.52 427.07 L1254.82 426.99 L1256.13 426.91 L1257.43 426.84 L1258.74 426.78 L1260.04 426.73 L1261.35 426.68 L1262.66 426.64 L1263.96 426.6 L1265.27 426.57 L1266.57 426.54 L1267.88 426.52 L1269.18 426.51 L1270.49 426.49 L1271.79 426.49 L1273.1 426.49 L1274.4 426.49 L1275.71 426.49 L1277.01 426.51 L1278.32 426.52 L1279.63 426.54 L1280.93 426.56 L1282.24 426.58 L1283.54 426.61 L1284.85 426.64 L1286.15 426.68 L1287.46 426.71 L1288.76 426.75 L1290.07 426.79 L1291.37 426.83 L1292.68 426.88 L1293.2 426.89" fill="none" stroke="#ff7f50" stroke-width="7.9" stroke-linecap="square" stroke-linejoin="round"/><path d="M980.6 712.2 L981.91 711.03 L983.21 709.85 L984.52 708.68 L985.82 707.51 L987.13 706.35 L988.43 705.18 L989.74 704.02 L991.04 702.85 L992.35 701.69 L993.65 700.53 L994.96 699.36 L996.26 698.2 L997.57 697.04 L998.87 695.88 L1000.18 694.71 L1001.49 693.55 L1002.79 692.39 L1004.1 691.22 L1005.4 690.05 L1006.71 688.89 L1008.01 687.71 L1009.32 686.54 L1010.62 685.37 L1011.93 684.19 L1013.23 683.01 L1014.54 681.83 L1015.84 680.64 L1017.15 679.45 L1018.46 678.26 L1019.76 677.06 L1021.07 675.86 L1022.37 674.66 L1023.68 673.45 L1024.98 672.24 L1026.29 671.02 L1027.59 669.79 L1028.9 668.57 L1030.2 667.33 L1031.51 666.09 L1032.81 664.84 L1034.12 663.59 L1035.42 662.33 L1036.73 661.07 L1038.04 659.8 L1039.34 658.52 L1040.65 657.23 L1041.95 655.94 L1043.26 654.63 L1044.56 653.33 L1045.87 652.01 L1047.17 650.68 L1048.48 649.35 L1049.78 648 L1051.09 646.65 L1052.39 645.29 L1053.7 643.92 L1055 642.54 L1056.31 641.15 L1057.62 639.75 L1058.92 638.34 L1060.23 636.93 L1061.53 635.5 L1062.84 634.07 L1064.14 632.63 L1065.45 631.18 L1066.75 629.73 L1068.06 628.27 L1069.36 626.8 L1070.67 625.33 L1071.97 623.85 L1073.28 622.37 L1074.59 620.88 L1075.89 619.39 L1077.2 617.89 L1078.5 616.38 L1079.81 614.88 L1081.11 613.37 L1082.42 611.85 L1083.72 610.34 L1085.03 608.82 L1086.33 607.3 L1087.64 605.77 L1088.94 604.25 L1090.25 602.72 L1091.55 601.19 L1092.86 599.66 L1094.17 598.13 L1095.47 596.6 L1096.78 595.07 L1098.08 593.54 L1099.39 592.01 L1100.69 590.48 L1102 588.95 L1103.3 587.43 L1104.61 585.9 L1105.91 584.38 L1107.22 582.86 L1108.52 581.34 L1109.83 579.83 L1111.13 578.32 L1112.44 576.81 L1113.75 575.31 L1115.05 573.81 L1116.36 572.31 L1117.66 570.82 L1118.97 569.33 L1120.27 567.85 L1121.58 566.38 L1122.88 564.91 L1124.19 563.45 L1125.49 561.99 L1126.8 560.54 L1128.1 559.1 L1129.41 557.67 L1130.72 556.24 L1132.02 554.82 L1133.33 553.41 L1134.63 552.01 L1135.94 550.62 L1137.24 549.23 L1138.55 547.86 L1139.85 546.49 L1141.16 545.14 L1142.46 543.79 L1143.77 542.45 L1145.07 541.13 L1146.38 539.81 L1147.68 538.5 L1148.99 537.2 L1150.3 535.91 L1151.6 534.63 L1152.91 533.36 L1154.21 532.09 L1155.52 530.84 L1156.82 529.6 L1158.13 528.36 L1159.43 527.14 L1160.74 525.92 L1162.04 524.72 L1163.35 523.52 L1164.65 522.33 L1165.96 521.15 L1167.27 519.98 L1168.57 518.82 L1169.88 517.67 L1171.18 516.52 L1172.49 515.39 L1173.79 514.27 L1175.1 513.15 L1176.4 512.04 L1177.71 510.95 L1179.01 509.86 L1180.32 508.78 L1181.62 507.71 L1182.93 506.65 L1184.23 505.6 L1185.54 504.55 L1186.85 503.52 L1188.15 502.49 L1189.46 501.48 L1190.76 500.47 L1192.07 499.47 L1193.37 498.48 L1194.68 497.5 L1195.98 496.53 L1197.29 495.57 L1198.59 494.62 L1199.9 493.67 L1201.2 492.74 L1202.51 491.81 L1203.81 490.89 L1205.12 489.98 L1206.43 489.08 L1207.73 488.19 L1209.04 487.31 L1210.34 486.43 L1211.65 485.57 L1212.95 484.71 L1214.26 483.87 L1215.56 483.03 L1216.87 482.2 L1218.17 481.38 L1219.48 480.56 L1220.78 479.76 L1222.09 478.96 L1223.4 478.18 L1224.7 477.4 L1226.01 476.63 L1227.31 475.87 L1228.62 475.12 L1229.92 474.37 L1231.23 473.64 L1232.53 472.91 L1233.84 472.2 L1235.14 471.49 L1236.45 470.79 L1237.75 470.1 L1239.06 469.41 L1240.36 468.74 L1241.67 468.07 L1242.98 467.42 L1244.28 466.77 L1245.59 466.13 L1246.89 465.49 L1248.2 464.87 L1249.5 464.26 L1250.81 463.65 L1252.11 463.05 L1253.42 462.46 L1254.72 461.88 L1256.03 461.31 L1257.33 460.74 L1258.64 460.19 L1259.94 459.64 L1261.25 459.1 L1262.56 458.57 L1263.86 458.05 L1265.17 457.53 L1266.47 457.03 L1267.78 456.53 L1269.08 456.04 L1270.39 455.56 L1271.69 455.08 L1273 454.62 L1274.3 454.16 L1275.61 453.72 L1276.91 453.28 L1278.22 452.84 L1279.53 452.42 L1280.83 452.01 L1282.14 451.6 L1283.44 451.2 L1284.75 450.81 L1286.05 450.43 L1287.36 450.05 L1288.66 449.69 L1289.97 449.33 L1291.27 448.98 L1292.58 448.64 L1293.88 448.3 L1295.19 447.98 L1296.49 447.66 L1297.8 447.35 L1299.11 447.05 L1300.41 446.76 L1301.72 446.47 L1303.02 446.19 L1304.33 445.92 L1305.63 445.66 L1306.94 445.41 L1308.24 445.16 L1309.55 444.92 L1310.85 444.7 L1312.16 444.47 L1313.46 444.26 L1314.77 444.05 L1316.07 443.86 L1317.38 443.67 L1318.69 443.48 L1319.99 443.31 L1320 443.31" fill="none" stroke="#808000" stroke-width="7.9" stroke-linecap="square" stroke-linejoin="round"/><line x1="745.24" y1="444.33" x2="1319.6" y2="444.33" stroke="#0000ff" stroke-opacity="0.8" stroke-width="1.5"/><line x1="1136.65" y1="412.81" x2="1136.65" y2="787.42" stroke="#0000ff" stroke-opacity="0.8" stroke-width="1.5"/></g>
<rect x="745.24" y="412.81" width="574.35" height="374.6" fill="none" stroke="#000" stroke-width="2.05"/>
<path d="M771.35 787.42V796.92M875.78 787.42V796.92M980.21 787.42V796.92M1084.63 787.42V796.92M1189.06 787.42V796.92M1293.49 787.42V796.92M745.24 756.2H735.74M745.24 693.77H735.74M745.24 631.33H735.74M745.24 568.9H735.74M745.24 506.46H735.74M745.24 444.03H735.74" stroke="#000" stroke-width="2.05" fill="none"/>
<text x="771.35" y="829.92" text-anchor="middle" font-size="29.3">1980</text><text x="875.78" y="829.92" text-anchor="middle" font-size="29.3">2000</text><text x="980.21" y="829.92" text-anchor="middle" font-size="29.3">2020</text><text x="1084.63" y="829.92" text-anchor="middle" font-size="29.3">2040</text><text x="1189.06" y="829.92" text-anchor="middle" font-size="29.3">2060</text><text x="1293.49" y="829.92" text-anchor="middle" font-size="29.3">2080</text>
<text x="1032.42" y="868.72" text-anchor="middle" font-size="29.3">Year</text>
<g clip-path="url(#clipe)"><path d="M348.66 1137.26 L349.96 1136.73 L351.27 1136.18 L352.57 1135.61 L353.88 1135.02 L355.18 1134.42 L356.49 1133.79 L357.79 1133.15 L359.1 1132.49 L360.4 1131.81 L361.71 1131.12 L363.01 1130.4 L364.32 1129.67 L365.63 1128.92 L366.93 1128.16 L368.24 1127.38 L369.54 1126.58 L370.85 1125.76 L372.15 1124.93 L373.46 1124.07 L374.76 1123.21 L376.07 1122.32 L377.37 1121.43 L378.68 1120.51 L379.98 1119.58 L381.29 1118.63 L382.6 1117.67 L383.9 1116.69 L385.21 1115.69 L386.51 1114.68 L387.82 1113.66 L389.12 1112.61 L390.43 1111.56 L391.73 1110.49 L393.04 1109.4 L394.34 1108.3 L395.65 1107.18 L396.95 1106.05 L398.26 1104.91 L399.56 1103.75 L400.87 1102.58 L402.18 1101.39 L403.48 1100.19 L404.79 1098.98 L406.09 1097.75 L407.4 1096.51 L408.7 1095.25 L410.01 1093.98 L411.31 1092.7 L412.62 1091.41 L413.92 1090.1 L415.23 1088.78 L416.53 1087.44 L417.84 1086.1 L419.14 1084.74 L420.45 1083.37 L421.76 1081.98 L423.06 1080.59 L424.37 1079.18 L425.67 1077.76 L426.98 1076.33 L428.28 1074.89 L429.59 1073.43 L430.89 1071.97 L432.2 1070.49 L433.5 1069 L434.81 1067.5 L436.11 1065.99 L437.42 1064.47 L438.73 1062.94 L440.03 1061.4 L441.34 1059.84 L442.64 1058.28 L443.95 1056.71 L445.25 1055.12 L446.56 1053.53 L447.86 1051.92 L449.17 1050.31 L450.47 1048.69 L451.78 1047.06 L453.08 1045.41 L454.39 1043.76 L455.69 1042.1 L457 1040.43 L458.31 1038.75 L459.61 1037.07 L460.92 1035.37 L462.22 1033.67 L463.53 1031.95 L464.83 1030.23 L466.14 1028.5 L467.44 1026.77 L468.75 1025.02 L470.05 1023.27 L471.36 1021.51 L472.66 1019.74 L473.97 1017.96 L475.27 1016.18 L476.58 1014.39 L477.89 1012.59 L479.19 1010.78 L480.5 1008.97 L481.8 1007.15 L483.11 1005.33 L484.41 1003.5 L485.72 1001.66 L487.02 999.81 L488.33 997.96 L489.63 996.11 L490.94 994.24 L492.24 992.38 L493.55 990.5 L494.86 988.62 L496.16 986.74 L497.47 984.85 L498.77 982.95 L500.08 981.05 L501.38 979.14 L502.69 977.23 L503.99 975.32 L505.3 973.4 L506.6 971.48 L507.91 969.55 L509.21 967.62 L510.52 965.68 L511.82 963.74 L513.13 961.8 L514.44 959.86 L515.74 957.92 L517.05 955.97 L518.35 954.03 L519.66 952.08 L520.96 950.13 L522.27 948.19 L523.57 946.24 L524.88 944.3 L526.18 942.36 L527.49 940.42 L528.79 938.48 L530.1 936.54 L531.4 934.61 L532.71 932.68 L534.02 930.76 L535.32 928.84 L536.63 926.92 L537.93 925.01 L539.24 923.1 L540.54 921.21 L541.85 919.31 L543.15 917.43 L544.46 915.55 L545.76 913.68 L547.07 911.81 L548.37 909.96 L549.68 908.11 L550.99 906.27 L552.29 904.44 L553.6 902.62 L554.9 900.81 L556.21 899.01 L557.51 897.22 L558.82 895.44 L560.12 893.67 L561.43 891.91 L562.73 890.16 L564.04 888.42 L565.34 886.68 L566.65 884.96 L567.95 883.25 L569.26 881.54 L570.57 879.84 L571.87 878.15 L573.18 876.47 L574.48 874.79 L575.79 873.13 L577.09 871.47 L578.4 869.82 L579.7 868.17 L581.01 866.53 L582.31 864.9 L583.62 863.28 L584.92 861.66 L586.23 860.05 L587.54 858.44 L588.84 856.84 L590.15 855.24 L591.45 853.65 L592.76 852.06 L594.06 850.48 L595.37 848.9 L596.67 847.33 L597.98 845.76 L599.28 844.19 L600.59 842.63 L601.89 841.08 L603.2 839.52 L604.5 837.97 L605.81 836.42 L607.12 834.88 L608.42 833.33 L609.73 831.79 L611.03 830.25 L612.34 828.71 L613.64 827.18 L614.95 825.64 L616.25 824.11 L617.56 822.58 L618.86 821.05 L620.17 819.52 L621.47 817.99 L622.78 816.46 L624.08 814.93 L625.39 813.4 L626.7 811.87 L628 810.33 L629.31 808.8 L630 807.99" fill="none" stroke="#ffa500" stroke-width="7.9" stroke-linecap="square" stroke-linejoin="round"/><path d="M348.66 1137.22 L349.96 1136.74 L351.27 1136.25 L352.57 1135.75 L353.88 1135.23 L355.18 1134.7 L356.49 1134.15 L357.79 1133.58 L359.1 1133 L360.4 1132.41 L361.71 1131.8 L363.01 1131.18 L364.32 1130.54 L365.63 1129.89 L366.93 1129.22 L368.24 1128.54 L369.54 1127.84 L370.85 1127.13 L372.15 1126.4 L373.46 1125.66 L374.76 1124.9 L376.07 1124.13 L377.37 1123.35 L378.68 1122.55 L379.98 1121.73 L381.29 1120.9 L382.6 1120.06 L383.9 1119.2 L385.21 1118.33 L386.51 1117.44 L387.82 1116.54 L389.12 1115.63 L390.43 1114.7 L391.73 1113.75 L393.04 1112.79 L394.34 1111.82 L395.65 1110.83 L396.95 1109.83 L398.26 1108.81 L399.56 1107.78 L400.87 1106.73 L402.18 1105.67 L403.48 1104.6 L404.79 1103.51 L406.09 1102.41 L407.4 1101.29 L408.7 1100.16 L410.01 1099.01 L411.31 1097.85 L412.62 1096.68 L413.92 1095.49 L415.23 1094.29 L416.53 1093.07 L417.84 1091.84 L419.14 1090.59 L420.45 1089.34 L421.76 1088.06 L423.06 1086.78 L424.37 1085.48 L425.67 1084.17 L426.98 1082.85 L428.28 1081.51 L429.59 1080.16 L430.89 1078.8 L432.2 1077.42 L433.5 1076.04 L434.81 1074.64 L436.11 1073.23 L437.42 1071.8 L438.73 1070.37 L440.03 1068.93 L441.34 1067.47 L442.64 1066 L443.95 1064.53 L445.25 1063.04 L446.56 1061.54 L447.86 1060.03 L449.17 1058.51 L450.47 1056.98 L451.78 1055.44 L453.08 1053.89 L454.39 1052.33 L455.69 1050.76 L457 1049.18 L458.31 1047.59 L459.61 1045.99 L460.92 1044.39 L462.22 1042.77 L463.53 1041.15 L464.83 1039.52 L466.14 1037.88 L467.44 1036.23 L468.75 1034.58 L470.05 1032.91 L471.36 1031.24 L472.66 1029.56 L473.97 1027.88 L475.27 1026.18 L476.58 1024.48 L477.89 1022.77 L479.19 1021.06 L480.5 1019.34 L481.8 1017.61 L483.11 1015.88 L484.41 1014.14 L485.72 1012.39 L487.02 1010.64 L488.33 1008.88 L489.63 1007.12 L490.94 1005.35 L492.24 1003.58 L493.55 1001.8 L494.86 1000.02 L496.16 998.23 L497.47 996.44 L498.77 994.64 L500.08 992.84 L501.38 991.04 L502.69 989.23 L503.99 987.42 L505.3 985.6 L506.6 983.78 L507.91 981.96 L509.21 980.13 L510.52 978.3 L511.82 976.47 L513.13 974.64 L514.44 972.8 L515.74 970.97 L517.05 969.13 L518.35 967.29 L519.66 965.44 L520.96 963.6 L522.27 961.75 L523.57 959.91 L524.88 958.06 L526.18 956.21 L527.49 954.36 L528.79 952.51 L530.1 950.66 L531.4 948.81 L532.71 946.97 L534.02 945.12 L535.32 943.27 L536.63 941.42 L537.93 939.58 L539.24 937.73 L540.54 935.89 L541.85 934.04 L543.15 932.2 L544.46 930.36 L545.76 928.53 L547.07 926.69 L548.37 924.86 L549.68 923.03 L550.99 921.2 L552.29 919.38 L553.6 917.55 L554.9 915.73 L556.21 913.92 L557.51 912.11 L558.82 910.3 L560.12 908.5 L561.43 906.7 L562.73 904.9 L564.04 903.11 L565.34 901.32 L566.65 899.54 L567.95 897.76 L569.26 895.98 L570.57 894.22 L571.87 892.45 L573.18 890.69 L574.48 888.94 L575.79 887.19 L577.09 885.44 L578.4 883.7 L579.7 881.97 L581.01 880.24 L582.31 878.51 L583.62 876.8 L584.92 875.08 L586.23 873.38 L587.54 871.68 L588.84 869.98 L590.15 868.29 L591.45 866.61 L592.76 864.93 L594.06 863.26 L595.37 861.59 L596.67 859.94 L597.98 858.28 L599.28 856.64 L600.59 855 L601.89 853.37 L603.2 851.74 L604.5 850.12 L605.81 848.51 L607.12 846.9 L608.42 845.31 L609.73 843.72 L611.03 842.13 L612.34 840.56 L613.64 838.99 L614.95 837.43 L616.25 835.87 L617.56 834.33 L618.86 832.79 L620.17 831.26 L621.47 829.74 L622.78 828.22 L624.08 826.71 L625.39 825.22 L626.7 823.73 L628 822.25 L629.31 820.77 L630.61 819.31 L631.92 817.85 L633.22 816.4 L634.53 814.97 L635.83 813.54 L637.14 812.12 L638.44 810.7 L639.75 809.3 L640 809.03" fill="none" stroke="#ff0000" stroke-width="7.9" stroke-linecap="square" stroke-linejoin="round"/><path d="M137.5 815 L138.81 834.98 L140.11 845 L141.42 853.36 L142.72 863.53 L144.03 874.09 L145.33 884.53 L146.64 894.46 L147.94 903.53 L149.25 911.8 L150.55 919.69 L151.86 927.26 L153.16 934.52 L154.47 941.53 L155.77 948.31 L157.08 954.92 L158.39 961.38 L159.69 967.73 L161 974.02 L162.3 980.04 L163.61 985.79 L164.91 991.37 L166.22 996.9 L167.52 1002.61 L168.83 1008.74 L170.13 1015.26 L171.44 1022.08 L172.74 1029.09 L174.05 1036.26 L175.36 1044.16 L176.66 1052.54 L177.97 1060.77 L179.27 1068.24 L180.58 1074.32 L181.88 1079.09 L183.19 1083.36 L184.49 1087.22 L185.8 1090.74 L187.1 1094.02 L188.41 1097.13 L189.71 1100.16 L191.02 1103.18 L192.32 1106.13 L193.63 1108.95 L194.94 1111.67 L196.24 1114.28 L197.55 1116.83 L198.85 1119.31 L200.16 1121.75 L201.46 1124.17 L202.77 1126.56 L204.07 1128.84 L205.38 1131.06 L206.68 1133.22 L207.99 1135.38 L209.29 1137.55 L210.6 1139.76 L211.9 1142.06 L213.21 1144.48 L214.52 1147.29 L215.82 1150.37 L217.13 1153.55 L218.43 1156.63 L219.74 1159.41 L221.04 1161.72 L222.35 1163.35 L223.65 1164.29 L224.96 1165.07 L226.26 1165.68 L227.57 1166.04 L228.87 1166.09 L230.18 1166.03 L231.49 1165.92 L232.79 1165.75 L234.1 1165.54 L235.4 1165.31 L236.71 1165.05 L238.01 1164.77 L239.32 1164.49 L240.62 1164.21 L241.93 1163.93 L243.23 1163.68 L244.54 1163.45 L245.84 1163.26 L247.15 1163.11 L248.45 1163.01 L249.76 1162.95 L251.07 1162.9 L252.37 1162.86 L253.68 1162.82 L254.98 1162.8 L256.29 1162.77 L257.59 1162.74 L258.9 1162.72 L260.2 1162.68 L261.51 1162.65 L262.81 1162.6 L264.12 1162.54 L265.42 1162.47 L266.73 1162.36 L268.03 1162.19 L269.34 1161.97 L270.65 1161.72 L271.95 1161.43 L273.26 1161.12 L274.56 1160.79 L275.87 1160.44 L277.17 1160.09 L278.48 1159.73 L279.78 1159.36 L281.09 1158.93 L282.39 1158.46 L283.7 1157.95 L285 1157.42 L286.31 1156.86 L287.62 1156.29 L288.92 1155.72 L290.23 1155.14 L291.53 1154.58 L292.84 1154.03 L294.14 1153.46 L295.45 1152.88 L296.75 1152.28 L298.06 1151.68 L299.36 1151.07 L300.67 1150.46 L301.97 1149.86 L303.28 1149.27 L304.58 1148.69 L305.89 1148.14 L307.2 1147.6 L308.5 1147.1 L309.81 1146.62 L311.11 1146.15 L312.42 1145.69 L313.72 1145.25 L315.03 1144.81 L316.33 1144.39 L317.64 1143.97 L318.94 1143.57 L320.25 1143.17 L321.55 1142.78 L322.86 1142.4 L324.17 1142.02 L325.47 1141.64 L326.78 1141.25 L328.08 1140.85 L329.39 1140.45 L330.69 1140.04 L332 1139.65 L333.3 1139.27 L334.61 1138.9 L335.91 1138.55 L337.22 1138.22 L338.52 1137.93 L339.83 1137.66 L341.13 1137.43 L342.44 1137.25 L343.75 1137.1 L345.05 1137 L346.36 1136.9 L347.66 1136.83 L348.7 1136.8" fill="none" stroke="#ffa500" stroke-width="7.9" stroke-linecap="square" stroke-linejoin="round"/><path d="M348.13 1130.99 L349.44 1130.01 L350.74 1129.01 L352.05 1128.01 L353.36 1126.99 L354.66 1125.96 L355.97 1124.92 L357.27 1123.86 L358.58 1122.8 L359.88 1121.72 L361.19 1120.63 L362.49 1119.53 L363.8 1118.42 L365.1 1117.3 L366.41 1116.16 L367.71 1115.01 L369.02 1113.85 L370.32 1112.68 L371.63 1111.5 L372.94 1110.3 L374.24 1109.09 L375.55 1107.87 L376.85 1106.64 L378.16 1105.4 L379.46 1104.14 L380.77 1102.87 L382.07 1101.59 L383.38 1100.3 L384.68 1099 L385.99 1097.68 L387.29 1096.35 L388.6 1095.01 L389.91 1093.66 L391.21 1092.29 L392.52 1090.91 L393.82 1089.52 L395.13 1088.12 L396.43 1086.71 L397.74 1085.28 L399.04 1083.84 L400.35 1082.39 L401.65 1080.92 L402.96 1079.45 L404.26 1077.96 L405.57 1076.46 L406.87 1074.94 L408.18 1073.41 L409.49 1071.88 L410.79 1070.32 L412.1 1068.76 L413.4 1067.18 L414.71 1065.59 L416.01 1063.99 L417.32 1062.38 L418.62 1060.75 L419.93 1059.11 L421.23 1057.46 L422.54 1055.79 L423.84 1054.11 L425.15 1052.42 L426.45 1050.72 L427.76 1049.01 L429.07 1047.28 L430.37 1045.54 L431.68 1043.79 L432.98 1042.02 L434.29 1040.25 L435.59 1038.46 L436.9 1036.66 L438.2 1034.85 L439.51 1033.04 L440.81 1031.21 L442.12 1029.37 L443.42 1027.52 L444.73 1025.66 L446.04 1023.79 L447.34 1021.91 L448.65 1020.03 L449.95 1018.13 L451.26 1016.22 L452.56 1014.31 L453.87 1012.39 L455.17 1010.46 L456.48 1008.52 L457.78 1006.58 L459.09 1004.62 L460.39 1002.66 L461.7 1000.7 L463 998.72 L464.31 996.74 L465.62 994.75 L466.92 992.76 L468.23 990.76 L469.53 988.76 L470.84 986.75 L472.14 984.73 L473.45 982.71 L474.75 980.68 L476.06 978.65 L477.36 976.62 L478.67 974.58 L479.97 972.53 L481.28 970.48 L482.58 968.43 L483.89 966.38 L485.2 964.32 L486.5 962.26 L487.81 960.19 L489.11 958.13 L490.42 956.06 L491.72 953.98 L493.03 951.91 L494.33 949.83 L495.64 947.76 L496.94 945.68 L498.25 943.6 L499.55 941.52 L500.86 939.44 L502.17 937.35 L503.47 935.27 L504.78 933.19 L506.08 931.1 L507.39 929.02 L508.69 926.94 L510 924.86 L511.3 922.78 L512.61 920.7 L513.91 918.62 L515.22 916.54 L516.52 914.47 L517.83 912.39 L519.13 910.32 L520.44 908.25 L521.75 906.19 L523.05 904.12 L524.36 902.06 L525.66 900 L526.97 897.95 L528.27 895.89 L529.58 893.85 L530.88 891.8 L532.19 889.76 L533.49 887.72 L534.8 885.69 L536.1 883.66 L537.41 881.64 L538.71 879.62 L540.02 877.61 L541.33 875.61 L542.63 873.6 L543.94 871.61 L545.24 869.62 L546.55 867.63 L547.85 865.66 L549.16 863.69 L550.46 861.72 L551.77 859.77 L553.07 857.82 L554.38 855.87 L555.68 853.94 L556.99 852.01 L558.3 850.09 L559.6 848.18 L560.91 846.28 L562.21 844.38 L563.52 842.5 L564.82 840.62 L566.13 838.75 L567.43 836.89 L568.74 835.04 L570.04 833.2 L571.35 831.37 L572.65 829.55 L573.96 827.74 L575.26 825.94 L576.57 824.15 L577.88 822.37 L579.18 820.6 L580.49 818.84 L581.79 817.1 L583.1 815.36 L584.4 813.64 L585.71 811.93 L587.01 810.23 L588.32 808.54 L589.62 806.86 L590 806.38" fill="none" stroke="#ff7f50" stroke-width="7.9" stroke-linecap="square" stroke-linejoin="round"/><path d="M349.18 1138.47 L350.48 1137.93 L351.79 1137.37 L353.09 1136.8 L354.4 1136.22 L355.7 1135.63 L357.01 1135.03 L358.32 1134.42 L359.62 1133.79 L360.93 1133.16 L362.23 1132.51 L363.54 1131.85 L364.84 1131.18 L366.15 1130.5 L367.45 1129.81 L368.76 1129.1 L370.06 1128.39 L371.37 1127.66 L372.67 1126.93 L373.98 1126.18 L375.29 1125.43 L376.59 1124.66 L377.9 1123.88 L379.2 1123.1 L380.51 1122.3 L381.81 1121.49 L383.12 1120.67 L384.42 1119.85 L385.73 1119.01 L387.03 1118.16 L388.34 1117.3 L389.64 1116.44 L390.95 1115.56 L392.25 1114.67 L393.56 1113.78 L394.87 1112.87 L396.17 1111.95 L397.48 1111.03 L398.78 1110.1 L400.09 1109.15 L401.39 1108.2 L402.7 1107.24 L404 1106.27 L405.31 1105.29 L406.61 1104.3 L407.92 1103.31 L409.22 1102.3 L410.53 1101.29 L411.83 1100.27 L413.14 1099.24 L414.45 1098.2 L415.75 1097.15 L417.06 1096.09 L418.36 1095.03 L419.67 1093.96 L420.97 1092.88 L422.28 1091.79 L423.58 1090.69 L424.89 1089.59 L426.19 1088.48 L427.5 1087.36 L428.8 1086.23 L430.11 1085.09 L431.42 1083.95 L432.72 1082.8 L434.03 1081.64 L435.33 1080.48 L436.64 1079.31 L437.94 1078.13 L439.25 1076.94 L440.55 1075.75 L441.86 1074.55 L443.16 1073.34 L444.47 1072.13 L445.77 1070.91 L447.08 1069.69 L448.38 1068.46 L449.69 1067.22 L451 1065.97 L452.3 1064.72 L453.61 1063.47 L454.91 1062.21 L456.22 1060.94 L457.52 1059.67 L458.83 1058.39 L460.13 1057.11 L461.44 1055.83 L462.74 1054.54 L464.05 1053.24 L465.35 1051.94 L466.66 1050.64 L467.96 1049.33 L469.27 1048.01 L470.58 1046.7 L471.88 1045.38 L473.19 1044.05 L474.49 1042.72 L475.8 1041.39 L477.1 1040.06 L478.41 1038.72 L479.71 1037.38 L481.02 1036.04 L482.32 1034.69 L483.63 1033.34 L484.93 1031.99 L486.24 1030.64 L487.55 1029.28 L488.85 1027.92 L490.16 1026.56 L491.46 1025.2 L492.77 1023.84 L494.07 1022.47 L495.38 1021.1 L496.68 1019.74 L497.99 1018.37 L499.29 1017 L500.6 1015.62 L501.9 1014.25 L503.21 1012.88 L504.51 1011.51 L505.82 1010.13 L507.13 1008.76 L508.43 1007.38 L509.74 1006.01 L511.04 1004.63 L512.35 1003.26 L513.65 1001.88 L514.96 1000.51 L516.26 999.14 L517.57 997.76 L518.87 996.39 L520.18 995.01 L521.48 993.64 L522.79 992.27 L524.1 990.9 L525.4 989.53 L526.71 988.16 L528.01 986.79 L529.32 985.42 L530.62 984.06 L531.93 982.69 L533.23 981.33 L534.54 979.96 L535.84 978.6 L537.15 977.24 L538.45 975.88 L539.76 974.53 L541.06 973.17 L542.37 971.82 L543.68 970.46 L544.98 969.11 L546.29 967.77 L547.59 966.42 L548.9 965.08 L550.2 963.74 L551.51 962.4 L552.81 961.06 L554.12 959.73 L555.42 958.4 L556.73 957.07 L558.03 955.74 L559.34 954.42 L560.64 953.1 L561.95 951.78 L563.26 950.46 L564.56 949.15 L565.87 947.84 L567.17 946.54 L568.48 945.24 L569.78 943.94 L571.09 942.64 L572.39 941.35 L573.7 940.07 L575 938.78 L576.31 937.5 L577.61 936.22 L578.92 934.95 L580.23 933.68 L581.53 932.42 L582.84 931.16 L584.14 929.9 L585.45 928.65 L586.75 927.4 L588.06 926.16 L589.36 924.92 L590.67 923.69 L591.97 922.46 L593.28 921.24 L594.58 920.02 L595.89 918.8 L597.19 917.59 L598.5 916.39 L599.81 915.19 L601.11 914 L602.42 912.81 L603.72 911.63 L605.03 910.45 L606.33 909.28 L607.64 908.11 L608.94 906.95 L610.25 905.8 L611.55 904.65 L612.86 903.5 L614.16 902.37 L615.47 901.24 L616.77 900.11 L618.08 898.99 L619.39 897.88 L620.69 896.78 L622 895.68 L623.3 894.58 L624.61 893.5 L625.91 892.42 L627.22 891.35 L628.52 890.28 L629.83 889.22 L631.13 888.17 L632.44 887.13 L633.74 886.09 L635.05 885.06 L636.36 884.04 L637.66 883.02 L638.97 882.01 L640.27 881.01 L641.58 880.02 L642.88 879.04 L644.19 878.06 L645.49 877.09 L646.8 876.13 L648.1 875.17 L649.41 874.23 L650.71 873.29 L652.02 872.36 L653.32 871.44 L654.63 870.53 L655.94 869.63 L657.24 868.73 L658.55 867.85 L659.85 866.97 L661.16 866.1 L662.46 865.24 L663.77 864.39 L665.07 863.55 L666.38 862.72 L667.68 861.89 L668.99 861.08 L670.29 860.28 L671.6 859.48 L672.9 858.69 L674.21 857.92 L675.52 857.15 L676.82 856.39 L678.13 855.65 L679.43 854.91 L680.74 854.18 L682.04 853.47 L683.35 852.76 L684.65 852.06 L685.96 851.38 L687.26 850.7 L688.57 850.03 L689.87 849.38 L690 849.32" fill="none" stroke="#808000" stroke-width="7.9" stroke-linecap="square" stroke-linejoin="round"/><line x1="113.69" y1="856.33" x2="688.05" y2="856.33" stroke="#0000ff" stroke-opacity="0.8" stroke-width="1.5"/><line x1="505.1" y1="824.81" x2="505.1" y2="1199.42" stroke="#0000ff" stroke-opacity="0.8" stroke-width="1.5"/></g>
<rect x="113.69" y="824.81" width="574.35" height="374.6" fill="none" stroke="#000" stroke-width="2.05"/>
<path d="M139.8 1199.42V1208.92M244.23 1199.42V1208.92M348.66 1199.42V1208.92M453.08 1199.42V1208.92M557.51 1199.42V1208.92M661.94 1199.42V1208.92M113.69 1168.2H104.19M113.69 1105.77H104.19M113.69 1043.33H104.19M113.69 980.9H104.19M113.69 918.46H104.19M113.69 856.03H104.19" stroke="#000" stroke-width="2.05" fill="none"/>
<text x="92.99" y="1178.5" text-anchor="end" font-size="29.3">0</text><text x="92.99" y="1116.07" text-anchor="end" font-size="29.3">20</text><text x="92.99" y="1053.63" text-anchor="end" font-size="29.3">40</text><text x="92.99" y="991.2" text-anchor="end" font-size="29.3">60</text><text x="92.99" y="928.76" text-anchor="end" font-size="29.3">80</text><text x="92.99" y="866.33" text-anchor="end" font-size="29.3">100</text>
<text transform="translate(23.4 1012.12) rotate(-90)" text-anchor="middle" font-size="29.3">Ozone recovery (%)</text>
<text x="139.8" y="1241.92" text-anchor="middle" font-size="29.3">1980</text><text x="244.23" y="1241.92" text-anchor="middle" font-size="29.3">2000</text><text x="348.66" y="1241.92" text-anchor="middle" font-size="29.3">2020</text><text x="453.08" y="1241.92" text-anchor="middle" font-size="29.3">2040</text><text x="557.51" y="1241.92" text-anchor="middle" font-size="29.3">2060</text><text x="661.94" y="1241.92" text-anchor="middle" font-size="29.3">2080</text>
<text x="400.87" y="1280.72" text-anchor="middle" font-size="29.3">Year</text>
<rect x="156.4" y="44.5" width="253.7" height="50.7" rx="8" ry="8" fill="#fff" stroke="#000" stroke-width="2.4"/>
<text x="168.6" y="80" font-size="42" font-weight="bold">a</text>
<text x="223.6" y="79.3" font-size="29.3">September</text>
<rect x="787.9" y="44.5" width="205.3" height="50.7" rx="8" ry="8" fill="#fff" stroke="#000" stroke-width="2.4"/>
<text x="801.5" y="82.6" font-size="40.5" font-weight="bold">b</text>
<text x="856.2" y="78.7" font-size="29.3">October</text>
<rect x="156.4" y="456.6" width="282" height="50.7" rx="8" ry="8" fill="#fff" stroke="#000" stroke-width="2.4"/>
<text x="169.2" y="491.2" font-size="42" font-weight="bold">c</text>
<text x="222.9" y="491.3" font-size="29.3">O</text>
<text x="246" y="497.3" font-size="20.5">3</text>
<text x="266.2" y="491.3" font-size="29.3">hole area</text>
<rect x="788" y="456.5" width="298.4" height="50.7" rx="8" ry="8" fill="#fff" stroke="#000" stroke-width="2.4"/>
<text x="801.2" y="494.5" font-size="42" font-weight="bold">d</text>
<text x="857" y="489.3" font-size="29.3">O</text>
<text x="880.4" y="495.3" font-size="20.5">3</text>
<text x="900.6" y="489.3" font-size="29.3">mass defi.</text>
<rect x="156.4" y="868.5" width="303" height="50.7" rx="8" ry="8" fill="#fff" stroke="#000" stroke-width="2.4"/>
<text x="168.2" y="900.6" font-size="42" font-weight="bold">e</text>
<text x="223.5" y="902.8" font-size="29.3">TCO minimum</text>
<rect x="762.7" y="934.5" width="368.8" height="203" rx="5" ry="5" fill="#fff" stroke="#d6d6d6" stroke-width="2.4"/>
<line x1="771.8" y1="960.9" x2="812.1" y2="960.9" stroke="#ffa500" stroke-width="7.9"/>
<text x="831.2" y="969.2" font-size="24.6">R2000</text>
<line x1="771.8" y1="1009.15" x2="812.1" y2="1009.15" stroke="#ff0000" stroke-width="7.9"/>
<text x="831.2" y="1017.45" font-size="24.6">R2000_CFC11_B</text>
<line x1="771.8" y1="1057.4" x2="812.1" y2="1057.4" stroke="#808000" stroke-width="7.9"/>
<text x="831.2" y="1065.7" font-size="24.6">R2000_CFC11_67</text>
<line x1="771.8" y1="1105.65" x2="812.1" y2="1105.65" stroke="#ff7f50" stroke-width="7.9"/>
<text x="831.2" y="1113.95" font-size="24.6">R2000_NoVSLS</text>
</svg></body></html>
